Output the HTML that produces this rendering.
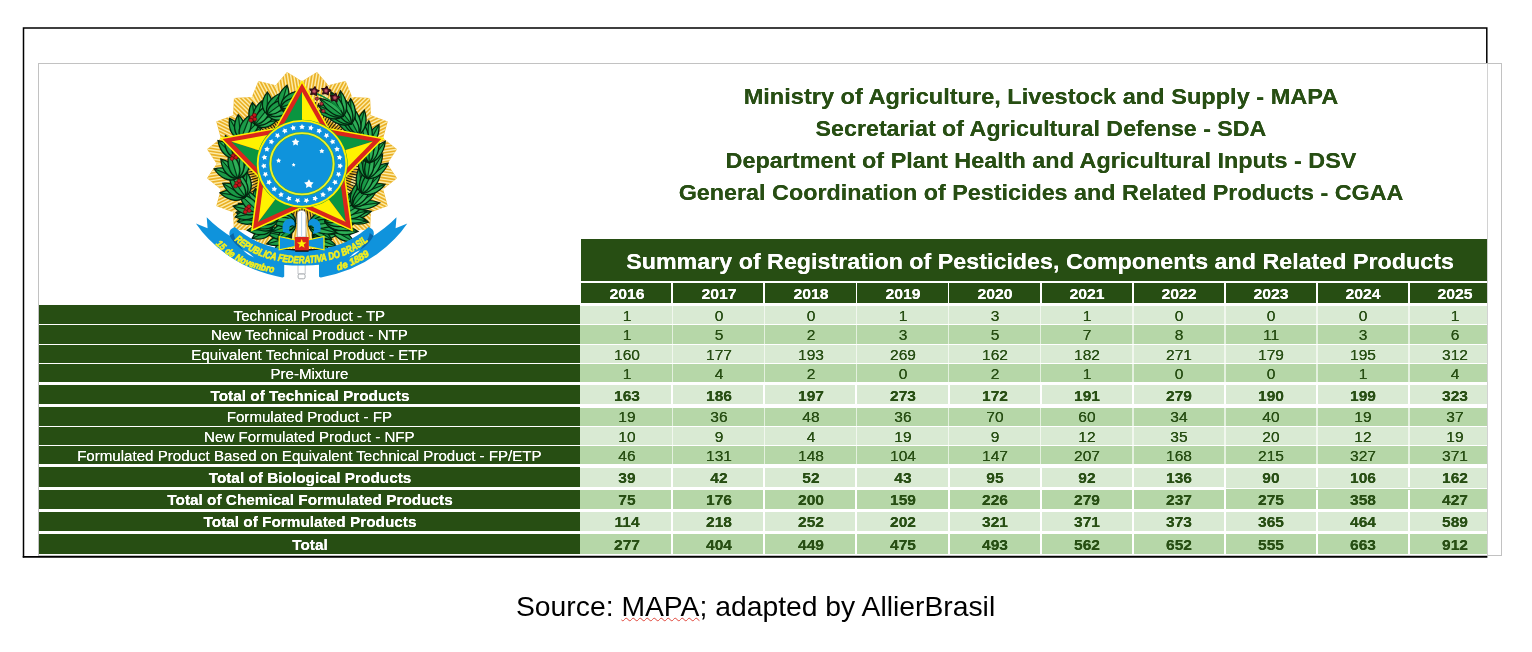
<!DOCTYPE html>
<html lang="en"><head><meta charset="utf-8"><title>Summary of Registration of Pesticides</title>
<style>
html,body{margin:0;padding:0;background:#fff;}
body{width:1532px;height:652px;position:relative;overflow:hidden;font-family:"Liberation Sans",Arial,sans-serif;}
.a{position:absolute;}
.t{position:absolute;white-space:nowrap;line-height:1;transform:translateX(-50%);text-shadow:0 0 .6px currentColor;}
.dg{background:#274e13;} .lg{background:#d9ead3;} .mg{background:#b6d7a8;}
.ttl{color:#274e13;font-weight:bold;font-size:22.4px;}
.hd{color:#fff;font-weight:bold;font-size:22.4px;transform:translateX(-50%) scaleX(1.0395);}
.yr{color:#fff;font-weight:bold;font-size:15.2px;transform:translateX(-50%) scaleX(1.04);}
.lb{color:#fff;font-size:15.1px;}
.nm{color:#274e13;font-size:15.1px;transform:translateX(-50%) scaleX(1.03);}
.lb.b{transform:translateX(-50%) scaleX(1.017);}
.b{font-weight:bold;}
</style></head><body>
<div class="a" id="img" style="left:38px;top:63px;width:1462px;height:491px;border:1px solid #c2c2c2;background:#fff;box-sizing:content-box"></div>
<div class="a" style="left:1487px;top:64px;width:1px;height:491px;background:#d2d2d2"></div>
<svg class="a" style="left:0;top:0" width="1532" height="652" viewBox="0 0 1532 652"><g stroke="#000" stroke-width="1.5" fill="none"><path d="M23.5,557.5V28.1H1486.8V62.9"/><path d="M22.75,556.8H1487.4" stroke-width="1.7"/></g></svg>
<div class="t ttl" style="left:1040.9px;top:86px;transform:translateX(-50%) scaleX(1.053)">Ministry of Agriculture, Livestock and Supply - MAPA</div>
<div class="t ttl" style="left:1040.9px;top:118px;transform:translateX(-50%) scaleX(1.037)">Secretariat of Agricultural Defense - SDA</div>
<div class="t ttl" style="left:1040.9px;top:150px;transform:translateX(-50%) scaleX(1.045)">Department of Plant Health and Agricultural Inputs - DSV</div>
<div class="t ttl" style="left:1040.9px;top:182px;transform:translateX(-50%) scaleX(1.042)">General Coordination of Pesticides and Related Products - CGAA</div>
<div class="a dg" style="left:581.0px;top:239.4px;width:906.3px;height:41.2px"></div>
<div class="t hd" style="left:1040.1px;top:251px">Summary of Registration of Pesticides, Components and Related Products</div>
<div class="a dg" style="left:581.0px;top:283.2px;width:90.4px;height:19.6px"></div>
<div class="t yr" style="left:626.5px;top:286px">2016</div>
<div class="a dg" style="left:673.1px;top:283.2px;width:90.4px;height:19.6px"></div>
<div class="t yr" style="left:718.6px;top:286px">2017</div>
<div class="a dg" style="left:765.2px;top:283.2px;width:90.4px;height:19.6px"></div>
<div class="t yr" style="left:810.7px;top:286px">2018</div>
<div class="a dg" style="left:857.3px;top:283.2px;width:90.4px;height:19.6px"></div>
<div class="t yr" style="left:902.8px;top:286px">2019</div>
<div class="a dg" style="left:949.4px;top:283.2px;width:90.4px;height:19.6px"></div>
<div class="t yr" style="left:994.9px;top:286px">2020</div>
<div class="a dg" style="left:1041.5px;top:283.2px;width:90.4px;height:19.6px"></div>
<div class="t yr" style="left:1087.0px;top:286px">2021</div>
<div class="a dg" style="left:1133.6px;top:283.2px;width:90.4px;height:19.6px"></div>
<div class="t yr" style="left:1179.1px;top:286px">2022</div>
<div class="a dg" style="left:1225.7px;top:283.2px;width:90.4px;height:19.6px"></div>
<div class="t yr" style="left:1271.2px;top:286px">2023</div>
<div class="a dg" style="left:1317.8px;top:283.2px;width:90.4px;height:19.6px"></div>
<div class="t yr" style="left:1363.3px;top:286px">2024</div>
<div class="a dg" style="left:1409.9px;top:283.2px;width:77.4px;height:19.6px"></div>
<div class="t yr" style="left:1455.4px;top:286px">2025</div>
<div class="a dg" style="left:38.6px;top:305.3px;width:541.2px;height:19.2px"></div>
<div class="a lg" style="left:580.3px;top:305.8px;width:907.0px;height:18.7px"></div>
<div class="t lb" style="left:309.4px;top:308px">Technical Product - TP</div>
<div class="t nm" style="left:626.5px;top:308px">1</div>
<div class="t nm" style="left:718.6px;top:308px">0</div>
<div class="t nm" style="left:810.7px;top:308px">0</div>
<div class="t nm" style="left:902.8px;top:308px">1</div>
<div class="t nm" style="left:994.9px;top:308px">3</div>
<div class="t nm" style="left:1087.0px;top:308px">1</div>
<div class="t nm" style="left:1179.1px;top:308px">0</div>
<div class="t nm" style="left:1271.2px;top:308px">0</div>
<div class="t nm" style="left:1363.3px;top:308px">0</div>
<div class="t nm" style="left:1455.4px;top:308px">1</div>
<div class="a dg" style="left:38.6px;top:324.9px;width:541.2px;height:19.1px"></div>
<div class="a mg" style="left:580.3px;top:325.4px;width:907.0px;height:18.6px"></div>
<div class="t lb" style="left:309.4px;top:327px">New Technical Product - NTP</div>
<div class="t nm" style="left:626.5px;top:327px">1</div>
<div class="t nm" style="left:718.6px;top:327px">5</div>
<div class="t nm" style="left:810.7px;top:327px">2</div>
<div class="t nm" style="left:902.8px;top:327px">3</div>
<div class="t nm" style="left:994.9px;top:327px">5</div>
<div class="t nm" style="left:1087.0px;top:327px">7</div>
<div class="t nm" style="left:1179.1px;top:327px">8</div>
<div class="t nm" style="left:1271.2px;top:327px">11</div>
<div class="t nm" style="left:1363.3px;top:327px">3</div>
<div class="t nm" style="left:1455.4px;top:327px">6</div>
<div class="a dg" style="left:38.6px;top:344.5px;width:541.2px;height:18.9px"></div>
<div class="a lg" style="left:580.3px;top:345.0px;width:907.0px;height:18.4px"></div>
<div class="t lb" style="left:309.4px;top:347px">Equivalent Technical Product - ETP</div>
<div class="t nm" style="left:626.5px;top:347px">160</div>
<div class="t nm" style="left:718.6px;top:347px">177</div>
<div class="t nm" style="left:810.7px;top:347px">193</div>
<div class="t nm" style="left:902.8px;top:347px">269</div>
<div class="t nm" style="left:994.9px;top:347px">162</div>
<div class="t nm" style="left:1087.0px;top:347px">182</div>
<div class="t nm" style="left:1179.1px;top:347px">271</div>
<div class="t nm" style="left:1271.2px;top:347px">179</div>
<div class="t nm" style="left:1363.3px;top:347px">195</div>
<div class="t nm" style="left:1455.4px;top:347px">312</div>
<div class="a dg" style="left:38.6px;top:363.8px;width:541.2px;height:18.6px"></div>
<div class="a mg" style="left:580.3px;top:364.3px;width:907.0px;height:18.1px"></div>
<div class="t lb" style="left:309.4px;top:366px">Pre-Mixture</div>
<div class="t nm" style="left:626.5px;top:366px">1</div>
<div class="t nm" style="left:718.6px;top:366px">4</div>
<div class="t nm" style="left:810.7px;top:366px">2</div>
<div class="t nm" style="left:902.8px;top:366px">0</div>
<div class="t nm" style="left:994.9px;top:366px">2</div>
<div class="t nm" style="left:1087.0px;top:366px">1</div>
<div class="t nm" style="left:1179.1px;top:366px">0</div>
<div class="t nm" style="left:1271.2px;top:366px">0</div>
<div class="t nm" style="left:1363.3px;top:366px">1</div>
<div class="t nm" style="left:1455.4px;top:366px">4</div>
<div class="a dg" style="left:38.6px;top:384.9px;width:541.2px;height:19.6px"></div>
<div class="a lg" style="left:580.3px;top:385.4px;width:907.0px;height:19.1px"></div>
<div class="t lb b" style="left:310.2px;top:388px">Total of Technical Products</div>
<div class="t nm b" style="left:626.5px;top:388px">163</div>
<div class="t nm b" style="left:718.6px;top:388px">186</div>
<div class="t nm b" style="left:810.7px;top:388px">197</div>
<div class="t nm b" style="left:902.8px;top:388px">273</div>
<div class="t nm b" style="left:994.9px;top:388px">172</div>
<div class="t nm b" style="left:1087.0px;top:388px">191</div>
<div class="t nm b" style="left:1179.1px;top:388px">279</div>
<div class="t nm b" style="left:1271.2px;top:388px">190</div>
<div class="t nm b" style="left:1363.3px;top:388px">199</div>
<div class="t nm b" style="left:1455.4px;top:388px">323</div>
<div class="a dg" style="left:38.6px;top:407.3px;width:541.2px;height:18.8px"></div>
<div class="a mg" style="left:580.3px;top:407.8px;width:907.0px;height:18.3px"></div>
<div class="t lb" style="left:309.4px;top:409px">Formulated Product - FP</div>
<div class="t nm" style="left:626.5px;top:409px">19</div>
<div class="t nm" style="left:718.6px;top:409px">36</div>
<div class="t nm" style="left:810.7px;top:409px">48</div>
<div class="t nm" style="left:902.8px;top:409px">36</div>
<div class="t nm" style="left:994.9px;top:409px">70</div>
<div class="t nm" style="left:1087.0px;top:409px">60</div>
<div class="t nm" style="left:1179.1px;top:409px">34</div>
<div class="t nm" style="left:1271.2px;top:409px">40</div>
<div class="t nm" style="left:1363.3px;top:409px">19</div>
<div class="t nm" style="left:1455.4px;top:409px">37</div>
<div class="a dg" style="left:38.6px;top:426.6px;width:541.2px;height:18.6px"></div>
<div class="a lg" style="left:580.3px;top:427.1px;width:907.0px;height:18.1px"></div>
<div class="t lb" style="left:309.4px;top:429px">New Formulated Product - NFP</div>
<div class="t nm" style="left:626.5px;top:429px">10</div>
<div class="t nm" style="left:718.6px;top:429px">9</div>
<div class="t nm" style="left:810.7px;top:429px">4</div>
<div class="t nm" style="left:902.8px;top:429px">19</div>
<div class="t nm" style="left:994.9px;top:429px">9</div>
<div class="t nm" style="left:1087.0px;top:429px">12</div>
<div class="t nm" style="left:1179.1px;top:429px">35</div>
<div class="t nm" style="left:1271.2px;top:429px">20</div>
<div class="t nm" style="left:1363.3px;top:429px">12</div>
<div class="t nm" style="left:1455.4px;top:429px">19</div>
<div class="a dg" style="left:38.6px;top:445.8px;width:541.2px;height:18.7px"></div>
<div class="a mg" style="left:580.3px;top:446.3px;width:907.0px;height:18.2px"></div>
<div class="t lb" style="left:309.4px;top:448px">Formulated Product Based on Equivalent Technical Product - FP/ETP</div>
<div class="t nm" style="left:626.5px;top:448px">46</div>
<div class="t nm" style="left:718.6px;top:448px">131</div>
<div class="t nm" style="left:810.7px;top:448px">148</div>
<div class="t nm" style="left:902.8px;top:448px">104</div>
<div class="t nm" style="left:994.9px;top:448px">147</div>
<div class="t nm" style="left:1087.0px;top:448px">207</div>
<div class="t nm" style="left:1179.1px;top:448px">168</div>
<div class="t nm" style="left:1271.2px;top:448px">215</div>
<div class="t nm" style="left:1363.3px;top:448px">327</div>
<div class="t nm" style="left:1455.4px;top:448px">371</div>
<div class="a dg" style="left:38.6px;top:467.4px;width:541.2px;height:19.4px"></div>
<div class="a lg" style="left:580.3px;top:467.9px;width:907.0px;height:18.9px"></div>
<div class="t lb b" style="left:310.2px;top:470px">Total of Biological Products</div>
<div class="t nm b" style="left:626.5px;top:470px">39</div>
<div class="t nm b" style="left:718.6px;top:470px">42</div>
<div class="t nm b" style="left:810.7px;top:470px">52</div>
<div class="t nm b" style="left:902.8px;top:470px">43</div>
<div class="t nm b" style="left:994.9px;top:470px">95</div>
<div class="t nm b" style="left:1087.0px;top:470px">92</div>
<div class="t nm b" style="left:1179.1px;top:470px">136</div>
<div class="t nm b" style="left:1271.2px;top:470px">90</div>
<div class="t nm b" style="left:1363.3px;top:470px">106</div>
<div class="t nm b" style="left:1455.4px;top:470px">162</div>
<div class="a dg" style="left:38.6px;top:489.7px;width:541.2px;height:19.1px"></div>
<div class="a mg" style="left:580.3px;top:490.2px;width:907.0px;height:18.6px"></div>
<div class="t lb b" style="left:310.2px;top:492px">Total of Chemical Formulated Products</div>
<div class="t nm b" style="left:626.5px;top:492px">75</div>
<div class="t nm b" style="left:718.6px;top:492px">176</div>
<div class="t nm b" style="left:810.7px;top:492px">200</div>
<div class="t nm b" style="left:902.8px;top:492px">159</div>
<div class="t nm b" style="left:994.9px;top:492px">226</div>
<div class="t nm b" style="left:1087.0px;top:492px">279</div>
<div class="t nm b" style="left:1179.1px;top:492px">237</div>
<div class="t nm b" style="left:1271.2px;top:492px">275</div>
<div class="t nm b" style="left:1363.3px;top:492px">358</div>
<div class="t nm b" style="left:1455.4px;top:492px">427</div>
<div class="a dg" style="left:38.6px;top:511.7px;width:541.2px;height:19.0px"></div>
<div class="a lg" style="left:580.3px;top:512.2px;width:907.0px;height:18.5px"></div>
<div class="t lb b" style="left:310.2px;top:514px">Total of Formulated Products</div>
<div class="t nm b" style="left:626.5px;top:514px">114</div>
<div class="t nm b" style="left:718.6px;top:514px">218</div>
<div class="t nm b" style="left:810.7px;top:514px">252</div>
<div class="t nm b" style="left:902.8px;top:514px">202</div>
<div class="t nm b" style="left:994.9px;top:514px">321</div>
<div class="t nm b" style="left:1087.0px;top:514px">371</div>
<div class="t nm b" style="left:1179.1px;top:514px">373</div>
<div class="t nm b" style="left:1271.2px;top:514px">365</div>
<div class="t nm b" style="left:1363.3px;top:514px">464</div>
<div class="t nm b" style="left:1455.4px;top:514px">589</div>
<div class="a dg" style="left:38.6px;top:533.8px;width:541.2px;height:19.8px"></div>
<div class="a mg" style="left:580.3px;top:534.3px;width:907.0px;height:19.3px"></div>
<div class="t lb b" style="left:310.2px;top:537px">Total</div>
<div class="t nm b" style="left:626.5px;top:537px">277</div>
<div class="t nm b" style="left:718.6px;top:537px">404</div>
<div class="t nm b" style="left:810.7px;top:537px">449</div>
<div class="t nm b" style="left:902.8px;top:537px">475</div>
<div class="t nm b" style="left:994.9px;top:537px">493</div>
<div class="t nm b" style="left:1087.0px;top:537px">562</div>
<div class="t nm b" style="left:1179.1px;top:537px">652</div>
<div class="t nm b" style="left:1271.2px;top:537px">555</div>
<div class="t nm b" style="left:1363.3px;top:537px">663</div>
<div class="t nm b" style="left:1455.4px;top:537px">912</div>
<div class="a" style="left:671.5px;top:305.3px;width:1.6px;height:19.7px;background:rgba(255,255,255,.62)"></div>
<div class="a" style="left:763.6px;top:305.3px;width:1.6px;height:19.7px;background:rgba(255,255,255,.62)"></div>
<div class="a" style="left:855.6px;top:305.3px;width:1.6px;height:19.7px;background:rgba(255,255,255,.62)"></div>
<div class="a" style="left:947.8px;top:305.3px;width:1.6px;height:19.7px;background:rgba(255,255,255,.62)"></div>
<div class="a" style="left:1039.9px;top:305.3px;width:1.6px;height:19.7px;background:rgba(255,255,255,.62)"></div>
<div class="a" style="left:1132.0px;top:305.3px;width:1.6px;height:19.7px;background:rgba(255,255,255,.62)"></div>
<div class="a" style="left:1224.0px;top:305.3px;width:1.6px;height:19.7px;background:rgba(255,255,255,.62)"></div>
<div class="a" style="left:1316.2px;top:305.3px;width:1.6px;height:19.7px;background:rgba(255,255,255,.62)"></div>
<div class="a" style="left:1408.3px;top:305.3px;width:1.6px;height:19.7px;background:rgba(255,255,255,.62)"></div>
<div class="a" style="left:671.5px;top:324.9px;width:1.6px;height:19.6px;background:rgba(255,255,255,.62)"></div>
<div class="a" style="left:763.6px;top:324.9px;width:1.6px;height:19.6px;background:rgba(255,255,255,.62)"></div>
<div class="a" style="left:855.6px;top:324.9px;width:1.6px;height:19.6px;background:rgba(255,255,255,.62)"></div>
<div class="a" style="left:947.8px;top:324.9px;width:1.6px;height:19.6px;background:rgba(255,255,255,.62)"></div>
<div class="a" style="left:1039.9px;top:324.9px;width:1.6px;height:19.6px;background:rgba(255,255,255,.62)"></div>
<div class="a" style="left:1132.0px;top:324.9px;width:1.6px;height:19.6px;background:rgba(255,255,255,.62)"></div>
<div class="a" style="left:1224.0px;top:324.9px;width:1.6px;height:19.6px;background:rgba(255,255,255,.62)"></div>
<div class="a" style="left:1316.2px;top:324.9px;width:1.6px;height:19.6px;background:rgba(255,255,255,.62)"></div>
<div class="a" style="left:1408.3px;top:324.9px;width:1.6px;height:19.6px;background:rgba(255,255,255,.62)"></div>
<div class="a" style="left:671.5px;top:344.5px;width:1.6px;height:19.4px;background:rgba(255,255,255,.62)"></div>
<div class="a" style="left:763.6px;top:344.5px;width:1.6px;height:19.4px;background:rgba(255,255,255,.62)"></div>
<div class="a" style="left:855.6px;top:344.5px;width:1.6px;height:19.4px;background:rgba(255,255,255,.62)"></div>
<div class="a" style="left:947.8px;top:344.5px;width:1.6px;height:19.4px;background:rgba(255,255,255,.62)"></div>
<div class="a" style="left:1039.9px;top:344.5px;width:1.6px;height:19.4px;background:rgba(255,255,255,.62)"></div>
<div class="a" style="left:1132.0px;top:344.5px;width:1.6px;height:19.4px;background:rgba(255,255,255,.62)"></div>
<div class="a" style="left:1224.0px;top:344.5px;width:1.6px;height:19.4px;background:rgba(255,255,255,.62)"></div>
<div class="a" style="left:1316.2px;top:344.5px;width:1.6px;height:19.4px;background:rgba(255,255,255,.62)"></div>
<div class="a" style="left:1408.3px;top:344.5px;width:1.6px;height:19.4px;background:rgba(255,255,255,.62)"></div>
<div class="a" style="left:671.5px;top:363.8px;width:1.6px;height:19.1px;background:rgba(255,255,255,.62)"></div>
<div class="a" style="left:763.6px;top:363.8px;width:1.6px;height:19.1px;background:rgba(255,255,255,.62)"></div>
<div class="a" style="left:855.6px;top:363.8px;width:1.6px;height:19.1px;background:rgba(255,255,255,.62)"></div>
<div class="a" style="left:947.8px;top:363.8px;width:1.6px;height:19.1px;background:rgba(255,255,255,.62)"></div>
<div class="a" style="left:1039.9px;top:363.8px;width:1.6px;height:19.1px;background:rgba(255,255,255,.62)"></div>
<div class="a" style="left:1132.0px;top:363.8px;width:1.6px;height:19.1px;background:rgba(255,255,255,.62)"></div>
<div class="a" style="left:1224.0px;top:363.8px;width:1.6px;height:19.1px;background:rgba(255,255,255,.62)"></div>
<div class="a" style="left:1316.2px;top:363.8px;width:1.6px;height:19.1px;background:rgba(255,255,255,.62)"></div>
<div class="a" style="left:1408.3px;top:363.8px;width:1.6px;height:19.1px;background:rgba(255,255,255,.62)"></div>
<div class="a" style="left:671.2px;top:384.9px;width:2px;height:20.1px;background:#fff"></div>
<div class="a" style="left:763.4px;top:384.9px;width:2px;height:20.1px;background:#fff"></div>
<div class="a" style="left:855.4px;top:384.9px;width:2px;height:20.1px;background:#fff"></div>
<div class="a" style="left:947.5px;top:384.9px;width:2px;height:20.1px;background:#fff"></div>
<div class="a" style="left:1039.7px;top:384.9px;width:2px;height:20.1px;background:#fff"></div>
<div class="a" style="left:1131.8px;top:384.9px;width:2px;height:20.1px;background:#fff"></div>
<div class="a" style="left:1223.8px;top:384.9px;width:2px;height:20.1px;background:#fff"></div>
<div class="a" style="left:1316.0px;top:384.9px;width:2px;height:20.1px;background:#fff"></div>
<div class="a" style="left:1408.1px;top:384.9px;width:2px;height:20.1px;background:#fff"></div>
<div class="a" style="left:671.5px;top:407.3px;width:1.6px;height:19.3px;background:rgba(255,255,255,.62)"></div>
<div class="a" style="left:763.6px;top:407.3px;width:1.6px;height:19.3px;background:rgba(255,255,255,.62)"></div>
<div class="a" style="left:855.6px;top:407.3px;width:1.6px;height:19.3px;background:rgba(255,255,255,.62)"></div>
<div class="a" style="left:947.8px;top:407.3px;width:1.6px;height:19.3px;background:rgba(255,255,255,.62)"></div>
<div class="a" style="left:1039.9px;top:407.3px;width:1.6px;height:19.3px;background:rgba(255,255,255,.62)"></div>
<div class="a" style="left:1132.0px;top:407.3px;width:1.6px;height:19.3px;background:rgba(255,255,255,.62)"></div>
<div class="a" style="left:1224.0px;top:407.3px;width:1.6px;height:19.3px;background:rgba(255,255,255,.62)"></div>
<div class="a" style="left:1316.2px;top:407.3px;width:1.6px;height:19.3px;background:rgba(255,255,255,.62)"></div>
<div class="a" style="left:1408.3px;top:407.3px;width:1.6px;height:19.3px;background:rgba(255,255,255,.62)"></div>
<div class="a" style="left:671.5px;top:426.6px;width:1.6px;height:19.1px;background:rgba(255,255,255,.62)"></div>
<div class="a" style="left:763.6px;top:426.6px;width:1.6px;height:19.1px;background:rgba(255,255,255,.62)"></div>
<div class="a" style="left:855.6px;top:426.6px;width:1.6px;height:19.1px;background:rgba(255,255,255,.62)"></div>
<div class="a" style="left:947.8px;top:426.6px;width:1.6px;height:19.1px;background:rgba(255,255,255,.62)"></div>
<div class="a" style="left:1039.9px;top:426.6px;width:1.6px;height:19.1px;background:rgba(255,255,255,.62)"></div>
<div class="a" style="left:1132.0px;top:426.6px;width:1.6px;height:19.1px;background:rgba(255,255,255,.62)"></div>
<div class="a" style="left:1224.0px;top:426.6px;width:1.6px;height:19.1px;background:rgba(255,255,255,.62)"></div>
<div class="a" style="left:1316.2px;top:426.6px;width:1.6px;height:19.1px;background:rgba(255,255,255,.62)"></div>
<div class="a" style="left:1408.3px;top:426.6px;width:1.6px;height:19.1px;background:rgba(255,255,255,.62)"></div>
<div class="a" style="left:671.5px;top:445.8px;width:1.6px;height:19.2px;background:rgba(255,255,255,.62)"></div>
<div class="a" style="left:763.6px;top:445.8px;width:1.6px;height:19.2px;background:rgba(255,255,255,.62)"></div>
<div class="a" style="left:855.6px;top:445.8px;width:1.6px;height:19.2px;background:rgba(255,255,255,.62)"></div>
<div class="a" style="left:947.8px;top:445.8px;width:1.6px;height:19.2px;background:rgba(255,255,255,.62)"></div>
<div class="a" style="left:1039.9px;top:445.8px;width:1.6px;height:19.2px;background:rgba(255,255,255,.62)"></div>
<div class="a" style="left:1132.0px;top:445.8px;width:1.6px;height:19.2px;background:rgba(255,255,255,.62)"></div>
<div class="a" style="left:1224.0px;top:445.8px;width:1.6px;height:19.2px;background:rgba(255,255,255,.62)"></div>
<div class="a" style="left:1316.2px;top:445.8px;width:1.6px;height:19.2px;background:rgba(255,255,255,.62)"></div>
<div class="a" style="left:1408.3px;top:445.8px;width:1.6px;height:19.2px;background:rgba(255,255,255,.62)"></div>
<div class="a" style="left:671.2px;top:467.4px;width:2px;height:19.9px;background:#fff"></div>
<div class="a" style="left:763.4px;top:467.4px;width:2px;height:19.9px;background:#fff"></div>
<div class="a" style="left:855.4px;top:467.4px;width:2px;height:19.9px;background:#fff"></div>
<div class="a" style="left:947.5px;top:467.4px;width:2px;height:19.9px;background:#fff"></div>
<div class="a" style="left:1039.7px;top:467.4px;width:2px;height:19.9px;background:#fff"></div>
<div class="a" style="left:1131.8px;top:467.4px;width:2px;height:19.9px;background:#fff"></div>
<div class="a" style="left:1223.8px;top:467.4px;width:2px;height:19.9px;background:#fff"></div>
<div class="a" style="left:1316.0px;top:467.4px;width:2px;height:19.9px;background:#fff"></div>
<div class="a" style="left:1408.1px;top:467.4px;width:2px;height:19.9px;background:#fff"></div>
<div class="a" style="left:671.2px;top:489.7px;width:2px;height:19.6px;background:#fff"></div>
<div class="a" style="left:763.4px;top:489.7px;width:2px;height:19.6px;background:#fff"></div>
<div class="a" style="left:855.4px;top:489.7px;width:2px;height:19.6px;background:#fff"></div>
<div class="a" style="left:947.5px;top:489.7px;width:2px;height:19.6px;background:#fff"></div>
<div class="a" style="left:1039.7px;top:489.7px;width:2px;height:19.6px;background:#fff"></div>
<div class="a" style="left:1131.8px;top:489.7px;width:2px;height:19.6px;background:#fff"></div>
<div class="a" style="left:1223.8px;top:489.7px;width:2px;height:19.6px;background:#fff"></div>
<div class="a" style="left:1316.0px;top:489.7px;width:2px;height:19.6px;background:#fff"></div>
<div class="a" style="left:1408.1px;top:489.7px;width:2px;height:19.6px;background:#fff"></div>
<div class="a" style="left:671.2px;top:511.7px;width:2px;height:19.5px;background:#fff"></div>
<div class="a" style="left:763.4px;top:511.7px;width:2px;height:19.5px;background:#fff"></div>
<div class="a" style="left:855.4px;top:511.7px;width:2px;height:19.5px;background:#fff"></div>
<div class="a" style="left:947.5px;top:511.7px;width:2px;height:19.5px;background:#fff"></div>
<div class="a" style="left:1039.7px;top:511.7px;width:2px;height:19.5px;background:#fff"></div>
<div class="a" style="left:1131.8px;top:511.7px;width:2px;height:19.5px;background:#fff"></div>
<div class="a" style="left:1223.8px;top:511.7px;width:2px;height:19.5px;background:#fff"></div>
<div class="a" style="left:1316.0px;top:511.7px;width:2px;height:19.5px;background:#fff"></div>
<div class="a" style="left:1408.1px;top:511.7px;width:2px;height:19.5px;background:#fff"></div>
<div class="a" style="left:671.2px;top:533.8px;width:2px;height:20.3px;background:#fff"></div>
<div class="a" style="left:763.4px;top:533.8px;width:2px;height:20.3px;background:#fff"></div>
<div class="a" style="left:855.4px;top:533.8px;width:2px;height:20.3px;background:#fff"></div>
<div class="a" style="left:947.5px;top:533.8px;width:2px;height:20.3px;background:#fff"></div>
<div class="a" style="left:1039.7px;top:533.8px;width:2px;height:20.3px;background:#fff"></div>
<div class="a" style="left:1131.8px;top:533.8px;width:2px;height:20.3px;background:#fff"></div>
<div class="a" style="left:1223.8px;top:533.8px;width:2px;height:20.3px;background:#fff"></div>
<div class="a" style="left:1316.0px;top:533.8px;width:2px;height:20.3px;background:#fff"></div>
<div class="a" style="left:1408.1px;top:533.8px;width:2px;height:20.3px;background:#fff"></div>
<div class="a lg" style="left:1225.9px;top:486.6px;width:261.4px;height:1.5px"></div>
<div class="a mg" style="left:1225.9px;top:489.0px;width:261.4px;height:1.4px"></div>
<div class="t" style="left:755.6px;top:592px;font-size:28.3px;color:#000;text-shadow:none">Source: <span style="text-decoration:underline wavy #e0483c 1px;text-underline-offset:1px;text-decoration-skip-ink:none">MAPA</span>; adapted by AllierBrasil</div>
<svg class="a" style="left:0;top:0;filter:blur(.4px)" width="1532" height="652" viewBox="0 0 1532 652">
<defs>
<clipPath id="gl"><path d="M14.5,-91.9 L25.5,-78.5 L42.2,-82.9 L48.5,-66.7 L65.8,-65.8 L66.7,-48.5 L82.9,-42.2 L78.5,-25.5 L91.9,-14.5 L82.5,-0.0 L91.9,14.5 L78.5,25.5 L82.9,42.2 L66.7,48.5 L65.8,65.8 L48.5,66.7 L42.2,82.9 L25.5,78.5 L14.5,91.9 L0.0,82.5 L-14.5,91.9 L-25.5,78.5 L-42.2,82.9 L-48.5,66.7 L-65.8,65.8 L-66.7,48.5 L-82.9,42.2 L-78.5,25.5 L-91.9,14.5 L-82.5,0.0 L-91.9,-14.5 L-78.5,-25.5 L-82.9,-42.2 L-66.7,-48.5 L-65.8,-65.8 L-48.5,-66.7 L-42.2,-82.9 L-25.5,-78.5 L-14.5,-91.9 L-0.0,-82.5Z"/></clipPath>
</defs>
<g transform="translate(302.0,163.8) scale(1.034,1)">
<path d="M14.5,-91.9 L25.5,-78.5 L42.2,-82.9 L48.5,-66.7 L65.8,-65.8 L66.7,-48.5 L82.9,-42.2 L78.5,-25.5 L91.9,-14.5 L82.5,-0.0 L91.9,14.5 L78.5,25.5 L82.9,42.2 L66.7,48.5 L65.8,65.8 L48.5,66.7 L42.2,82.9 L25.5,78.5 L14.5,91.9 L0.0,82.5 L-14.5,91.9 L-25.5,78.5 L-42.2,82.9 L-48.5,66.7 L-65.8,65.8 L-66.7,48.5 L-82.9,42.2 L-78.5,25.5 L-91.9,14.5 L-82.5,0.0 L-91.9,-14.5 L-78.5,-25.5 L-82.9,-42.2 L-66.7,-48.5 L-65.8,-65.8 L-48.5,-66.7 L-42.2,-82.9 L-25.5,-78.5 L-14.5,-91.9 L-0.0,-82.5Z" fill="#eab025"/>
<g clip-path="url(#gl)">
<line x1="-4.0" y1="-51.3" x2="3.0" y2="-95.7" stroke="#fcecaa" stroke-width="1.4"/>
<line x1="-1.1" y1="-50.8" x2="6.0" y2="-95.2" stroke="#fcecaa" stroke-width="1.4"/>
<line x1="1.9" y1="-50.3" x2="8.9" y2="-94.8" stroke="#fcecaa" stroke-width="1.4"/>
<line x1="4.9" y1="-49.9" x2="11.9" y2="-94.3" stroke="#fcecaa" stroke-width="1.4"/>
<line x1="7.8" y1="-49.4" x2="14.9" y2="-93.8" stroke="#fcecaa" stroke-width="1.4"/>
<line x1="10.8" y1="-48.9" x2="17.8" y2="-93.4" stroke="#fcecaa" stroke-width="1.4"/>
<line x1="13.7" y1="-48.4" x2="20.8" y2="-92.9" stroke="#fcecaa" stroke-width="1.4"/>
<line x1="16.7" y1="-48.0" x2="23.8" y2="-92.4" stroke="#fcecaa" stroke-width="1.4"/>
<line x1="19.7" y1="-47.5" x2="26.7" y2="-92.0" stroke="#fcecaa" stroke-width="1.4"/>
<line x1="12.0" y1="-50.0" x2="32.4" y2="-90.1" stroke="#fcecaa" stroke-width="1.4"/>
<line x1="14.7" y1="-48.6" x2="35.1" y2="-88.7" stroke="#fcecaa" stroke-width="1.4"/>
<line x1="17.4" y1="-47.3" x2="37.8" y2="-87.4" stroke="#fcecaa" stroke-width="1.4"/>
<line x1="20.0" y1="-45.9" x2="40.5" y2="-86.0" stroke="#fcecaa" stroke-width="1.4"/>
<line x1="22.7" y1="-44.6" x2="43.1" y2="-84.6" stroke="#fcecaa" stroke-width="1.4"/>
<line x1="25.4" y1="-43.2" x2="45.8" y2="-83.3" stroke="#fcecaa" stroke-width="1.4"/>
<line x1="28.0" y1="-41.8" x2="48.5" y2="-81.9" stroke="#fcecaa" stroke-width="1.4"/>
<line x1="30.7" y1="-40.5" x2="51.1" y2="-80.6" stroke="#fcecaa" stroke-width="1.4"/>
<line x1="33.4" y1="-39.1" x2="53.8" y2="-79.2" stroke="#fcecaa" stroke-width="1.4"/>
<line x1="26.9" y1="-43.8" x2="58.7" y2="-75.7" stroke="#fcecaa" stroke-width="1.4"/>
<line x1="29.0" y1="-41.7" x2="60.8" y2="-73.5" stroke="#fcecaa" stroke-width="1.4"/>
<line x1="31.1" y1="-39.6" x2="62.9" y2="-71.4" stroke="#fcecaa" stroke-width="1.4"/>
<line x1="33.2" y1="-37.5" x2="65.1" y2="-69.3" stroke="#fcecaa" stroke-width="1.4"/>
<line x1="35.4" y1="-35.4" x2="67.2" y2="-67.2" stroke="#fcecaa" stroke-width="1.4"/>
<line x1="37.5" y1="-33.2" x2="69.3" y2="-65.1" stroke="#fcecaa" stroke-width="1.4"/>
<line x1="39.6" y1="-31.1" x2="71.4" y2="-62.9" stroke="#fcecaa" stroke-width="1.4"/>
<line x1="41.7" y1="-29.0" x2="73.5" y2="-60.8" stroke="#fcecaa" stroke-width="1.4"/>
<line x1="43.8" y1="-26.9" x2="75.7" y2="-58.7" stroke="#fcecaa" stroke-width="1.4"/>
<line x1="39.1" y1="-33.4" x2="79.2" y2="-53.8" stroke="#fcecaa" stroke-width="1.4"/>
<line x1="40.5" y1="-30.7" x2="80.6" y2="-51.1" stroke="#fcecaa" stroke-width="1.4"/>
<line x1="41.8" y1="-28.0" x2="81.9" y2="-48.5" stroke="#fcecaa" stroke-width="1.4"/>
<line x1="43.2" y1="-25.4" x2="83.3" y2="-45.8" stroke="#fcecaa" stroke-width="1.4"/>
<line x1="44.6" y1="-22.7" x2="84.6" y2="-43.1" stroke="#fcecaa" stroke-width="1.4"/>
<line x1="45.9" y1="-20.0" x2="86.0" y2="-40.5" stroke="#fcecaa" stroke-width="1.4"/>
<line x1="47.3" y1="-17.4" x2="87.4" y2="-37.8" stroke="#fcecaa" stroke-width="1.4"/>
<line x1="48.6" y1="-14.7" x2="88.7" y2="-35.1" stroke="#fcecaa" stroke-width="1.4"/>
<line x1="50.0" y1="-12.0" x2="90.1" y2="-32.4" stroke="#fcecaa" stroke-width="1.4"/>
<line x1="47.5" y1="-19.7" x2="92.0" y2="-26.7" stroke="#fcecaa" stroke-width="1.4"/>
<line x1="48.0" y1="-16.7" x2="92.4" y2="-23.8" stroke="#fcecaa" stroke-width="1.4"/>
<line x1="48.4" y1="-13.7" x2="92.9" y2="-20.8" stroke="#fcecaa" stroke-width="1.4"/>
<line x1="48.9" y1="-10.8" x2="93.4" y2="-17.8" stroke="#fcecaa" stroke-width="1.4"/>
<line x1="49.4" y1="-7.8" x2="93.8" y2="-14.9" stroke="#fcecaa" stroke-width="1.4"/>
<line x1="49.9" y1="-4.9" x2="94.3" y2="-11.9" stroke="#fcecaa" stroke-width="1.4"/>
<line x1="50.3" y1="-1.9" x2="94.8" y2="-8.9" stroke="#fcecaa" stroke-width="1.4"/>
<line x1="50.8" y1="1.1" x2="95.2" y2="-6.0" stroke="#fcecaa" stroke-width="1.4"/>
<line x1="51.3" y1="4.0" x2="95.7" y2="-3.0" stroke="#fcecaa" stroke-width="1.4"/>
<line x1="51.3" y1="-4.0" x2="95.7" y2="3.0" stroke="#fcecaa" stroke-width="1.4"/>
<line x1="50.8" y1="-1.1" x2="95.2" y2="6.0" stroke="#fcecaa" stroke-width="1.4"/>
<line x1="50.3" y1="1.9" x2="94.8" y2="8.9" stroke="#fcecaa" stroke-width="1.4"/>
<line x1="49.9" y1="4.9" x2="94.3" y2="11.9" stroke="#fcecaa" stroke-width="1.4"/>
<line x1="49.4" y1="7.8" x2="93.8" y2="14.9" stroke="#fcecaa" stroke-width="1.4"/>
<line x1="48.9" y1="10.8" x2="93.4" y2="17.8" stroke="#fcecaa" stroke-width="1.4"/>
<line x1="48.4" y1="13.7" x2="92.9" y2="20.8" stroke="#fcecaa" stroke-width="1.4"/>
<line x1="48.0" y1="16.7" x2="92.4" y2="23.8" stroke="#fcecaa" stroke-width="1.4"/>
<line x1="47.5" y1="19.7" x2="92.0" y2="26.7" stroke="#fcecaa" stroke-width="1.4"/>
<line x1="50.0" y1="12.0" x2="90.1" y2="32.4" stroke="#fcecaa" stroke-width="1.4"/>
<line x1="48.6" y1="14.7" x2="88.7" y2="35.1" stroke="#fcecaa" stroke-width="1.4"/>
<line x1="47.3" y1="17.4" x2="87.4" y2="37.8" stroke="#fcecaa" stroke-width="1.4"/>
<line x1="45.9" y1="20.0" x2="86.0" y2="40.5" stroke="#fcecaa" stroke-width="1.4"/>
<line x1="44.6" y1="22.7" x2="84.6" y2="43.1" stroke="#fcecaa" stroke-width="1.4"/>
<line x1="43.2" y1="25.4" x2="83.3" y2="45.8" stroke="#fcecaa" stroke-width="1.4"/>
<line x1="41.8" y1="28.0" x2="81.9" y2="48.5" stroke="#fcecaa" stroke-width="1.4"/>
<line x1="40.5" y1="30.7" x2="80.6" y2="51.1" stroke="#fcecaa" stroke-width="1.4"/>
<line x1="39.1" y1="33.4" x2="79.2" y2="53.8" stroke="#fcecaa" stroke-width="1.4"/>
<line x1="43.8" y1="26.9" x2="75.7" y2="58.7" stroke="#fcecaa" stroke-width="1.4"/>
<line x1="41.7" y1="29.0" x2="73.5" y2="60.8" stroke="#fcecaa" stroke-width="1.4"/>
<line x1="39.6" y1="31.1" x2="71.4" y2="62.9" stroke="#fcecaa" stroke-width="1.4"/>
<line x1="37.5" y1="33.2" x2="69.3" y2="65.1" stroke="#fcecaa" stroke-width="1.4"/>
<line x1="35.4" y1="35.4" x2="67.2" y2="67.2" stroke="#fcecaa" stroke-width="1.4"/>
<line x1="33.2" y1="37.5" x2="65.1" y2="69.3" stroke="#fcecaa" stroke-width="1.4"/>
<line x1="31.1" y1="39.6" x2="62.9" y2="71.4" stroke="#fcecaa" stroke-width="1.4"/>
<line x1="29.0" y1="41.7" x2="60.8" y2="73.5" stroke="#fcecaa" stroke-width="1.4"/>
<line x1="26.9" y1="43.8" x2="58.7" y2="75.7" stroke="#fcecaa" stroke-width="1.4"/>
<line x1="33.4" y1="39.1" x2="53.8" y2="79.2" stroke="#fcecaa" stroke-width="1.4"/>
<line x1="30.7" y1="40.5" x2="51.1" y2="80.6" stroke="#fcecaa" stroke-width="1.4"/>
<line x1="28.0" y1="41.8" x2="48.5" y2="81.9" stroke="#fcecaa" stroke-width="1.4"/>
<line x1="25.4" y1="43.2" x2="45.8" y2="83.3" stroke="#fcecaa" stroke-width="1.4"/>
<line x1="22.7" y1="44.6" x2="43.1" y2="84.6" stroke="#fcecaa" stroke-width="1.4"/>
<line x1="20.0" y1="45.9" x2="40.5" y2="86.0" stroke="#fcecaa" stroke-width="1.4"/>
<line x1="17.4" y1="47.3" x2="37.8" y2="87.4" stroke="#fcecaa" stroke-width="1.4"/>
<line x1="14.7" y1="48.6" x2="35.1" y2="88.7" stroke="#fcecaa" stroke-width="1.4"/>
<line x1="12.0" y1="50.0" x2="32.4" y2="90.1" stroke="#fcecaa" stroke-width="1.4"/>
<line x1="19.7" y1="47.5" x2="26.7" y2="92.0" stroke="#fcecaa" stroke-width="1.4"/>
<line x1="16.7" y1="48.0" x2="23.8" y2="92.4" stroke="#fcecaa" stroke-width="1.4"/>
<line x1="13.7" y1="48.4" x2="20.8" y2="92.9" stroke="#fcecaa" stroke-width="1.4"/>
<line x1="10.8" y1="48.9" x2="17.8" y2="93.4" stroke="#fcecaa" stroke-width="1.4"/>
<line x1="7.8" y1="49.4" x2="14.9" y2="93.8" stroke="#fcecaa" stroke-width="1.4"/>
<line x1="4.9" y1="49.9" x2="11.9" y2="94.3" stroke="#fcecaa" stroke-width="1.4"/>
<line x1="1.9" y1="50.3" x2="8.9" y2="94.8" stroke="#fcecaa" stroke-width="1.4"/>
<line x1="-1.1" y1="50.8" x2="6.0" y2="95.2" stroke="#fcecaa" stroke-width="1.4"/>
<line x1="-4.0" y1="51.3" x2="3.0" y2="95.7" stroke="#fcecaa" stroke-width="1.4"/>
<line x1="4.0" y1="51.3" x2="-3.0" y2="95.7" stroke="#fcecaa" stroke-width="1.4"/>
<line x1="1.1" y1="50.8" x2="-6.0" y2="95.2" stroke="#fcecaa" stroke-width="1.4"/>
<line x1="-1.9" y1="50.3" x2="-8.9" y2="94.8" stroke="#fcecaa" stroke-width="1.4"/>
<line x1="-4.9" y1="49.9" x2="-11.9" y2="94.3" stroke="#fcecaa" stroke-width="1.4"/>
<line x1="-7.8" y1="49.4" x2="-14.9" y2="93.8" stroke="#fcecaa" stroke-width="1.4"/>
<line x1="-10.8" y1="48.9" x2="-17.8" y2="93.4" stroke="#fcecaa" stroke-width="1.4"/>
<line x1="-13.7" y1="48.4" x2="-20.8" y2="92.9" stroke="#fcecaa" stroke-width="1.4"/>
<line x1="-16.7" y1="48.0" x2="-23.8" y2="92.4" stroke="#fcecaa" stroke-width="1.4"/>
<line x1="-19.7" y1="47.5" x2="-26.7" y2="92.0" stroke="#fcecaa" stroke-width="1.4"/>
<line x1="-12.0" y1="50.0" x2="-32.4" y2="90.1" stroke="#fcecaa" stroke-width="1.4"/>
<line x1="-14.7" y1="48.6" x2="-35.1" y2="88.7" stroke="#fcecaa" stroke-width="1.4"/>
<line x1="-17.4" y1="47.3" x2="-37.8" y2="87.4" stroke="#fcecaa" stroke-width="1.4"/>
<line x1="-20.0" y1="45.9" x2="-40.5" y2="86.0" stroke="#fcecaa" stroke-width="1.4"/>
<line x1="-22.7" y1="44.6" x2="-43.1" y2="84.6" stroke="#fcecaa" stroke-width="1.4"/>
<line x1="-25.4" y1="43.2" x2="-45.8" y2="83.3" stroke="#fcecaa" stroke-width="1.4"/>
<line x1="-28.0" y1="41.8" x2="-48.5" y2="81.9" stroke="#fcecaa" stroke-width="1.4"/>
<line x1="-30.7" y1="40.5" x2="-51.1" y2="80.6" stroke="#fcecaa" stroke-width="1.4"/>
<line x1="-33.4" y1="39.1" x2="-53.8" y2="79.2" stroke="#fcecaa" stroke-width="1.4"/>
<line x1="-26.9" y1="43.8" x2="-58.7" y2="75.7" stroke="#fcecaa" stroke-width="1.4"/>
<line x1="-29.0" y1="41.7" x2="-60.8" y2="73.5" stroke="#fcecaa" stroke-width="1.4"/>
<line x1="-31.1" y1="39.6" x2="-62.9" y2="71.4" stroke="#fcecaa" stroke-width="1.4"/>
<line x1="-33.2" y1="37.5" x2="-65.1" y2="69.3" stroke="#fcecaa" stroke-width="1.4"/>
<line x1="-35.4" y1="35.4" x2="-67.2" y2="67.2" stroke="#fcecaa" stroke-width="1.4"/>
<line x1="-37.5" y1="33.2" x2="-69.3" y2="65.1" stroke="#fcecaa" stroke-width="1.4"/>
<line x1="-39.6" y1="31.1" x2="-71.4" y2="62.9" stroke="#fcecaa" stroke-width="1.4"/>
<line x1="-41.7" y1="29.0" x2="-73.5" y2="60.8" stroke="#fcecaa" stroke-width="1.4"/>
<line x1="-43.8" y1="26.9" x2="-75.7" y2="58.7" stroke="#fcecaa" stroke-width="1.4"/>
<line x1="-39.1" y1="33.4" x2="-79.2" y2="53.8" stroke="#fcecaa" stroke-width="1.4"/>
<line x1="-40.5" y1="30.7" x2="-80.6" y2="51.1" stroke="#fcecaa" stroke-width="1.4"/>
<line x1="-41.8" y1="28.0" x2="-81.9" y2="48.5" stroke="#fcecaa" stroke-width="1.4"/>
<line x1="-43.2" y1="25.4" x2="-83.3" y2="45.8" stroke="#fcecaa" stroke-width="1.4"/>
<line x1="-44.6" y1="22.7" x2="-84.6" y2="43.1" stroke="#fcecaa" stroke-width="1.4"/>
<line x1="-45.9" y1="20.0" x2="-86.0" y2="40.5" stroke="#fcecaa" stroke-width="1.4"/>
<line x1="-47.3" y1="17.4" x2="-87.4" y2="37.8" stroke="#fcecaa" stroke-width="1.4"/>
<line x1="-48.6" y1="14.7" x2="-88.7" y2="35.1" stroke="#fcecaa" stroke-width="1.4"/>
<line x1="-50.0" y1="12.0" x2="-90.1" y2="32.4" stroke="#fcecaa" stroke-width="1.4"/>
<line x1="-47.5" y1="19.7" x2="-92.0" y2="26.7" stroke="#fcecaa" stroke-width="1.4"/>
<line x1="-48.0" y1="16.7" x2="-92.4" y2="23.8" stroke="#fcecaa" stroke-width="1.4"/>
<line x1="-48.4" y1="13.7" x2="-92.9" y2="20.8" stroke="#fcecaa" stroke-width="1.4"/>
<line x1="-48.9" y1="10.8" x2="-93.4" y2="17.8" stroke="#fcecaa" stroke-width="1.4"/>
<line x1="-49.4" y1="7.8" x2="-93.8" y2="14.9" stroke="#fcecaa" stroke-width="1.4"/>
<line x1="-49.9" y1="4.9" x2="-94.3" y2="11.9" stroke="#fcecaa" stroke-width="1.4"/>
<line x1="-50.3" y1="1.9" x2="-94.8" y2="8.9" stroke="#fcecaa" stroke-width="1.4"/>
<line x1="-50.8" y1="-1.1" x2="-95.2" y2="6.0" stroke="#fcecaa" stroke-width="1.4"/>
<line x1="-51.3" y1="-4.0" x2="-95.7" y2="3.0" stroke="#fcecaa" stroke-width="1.4"/>
<line x1="-51.3" y1="4.0" x2="-95.7" y2="-3.0" stroke="#fcecaa" stroke-width="1.4"/>
<line x1="-50.8" y1="1.1" x2="-95.2" y2="-6.0" stroke="#fcecaa" stroke-width="1.4"/>
<line x1="-50.3" y1="-1.9" x2="-94.8" y2="-8.9" stroke="#fcecaa" stroke-width="1.4"/>
<line x1="-49.9" y1="-4.9" x2="-94.3" y2="-11.9" stroke="#fcecaa" stroke-width="1.4"/>
<line x1="-49.4" y1="-7.8" x2="-93.8" y2="-14.9" stroke="#fcecaa" stroke-width="1.4"/>
<line x1="-48.9" y1="-10.8" x2="-93.4" y2="-17.8" stroke="#fcecaa" stroke-width="1.4"/>
<line x1="-48.4" y1="-13.7" x2="-92.9" y2="-20.8" stroke="#fcecaa" stroke-width="1.4"/>
<line x1="-48.0" y1="-16.7" x2="-92.4" y2="-23.8" stroke="#fcecaa" stroke-width="1.4"/>
<line x1="-47.5" y1="-19.7" x2="-92.0" y2="-26.7" stroke="#fcecaa" stroke-width="1.4"/>
<line x1="-50.0" y1="-12.0" x2="-90.1" y2="-32.4" stroke="#fcecaa" stroke-width="1.4"/>
<line x1="-48.6" y1="-14.7" x2="-88.7" y2="-35.1" stroke="#fcecaa" stroke-width="1.4"/>
<line x1="-47.3" y1="-17.4" x2="-87.4" y2="-37.8" stroke="#fcecaa" stroke-width="1.4"/>
<line x1="-45.9" y1="-20.0" x2="-86.0" y2="-40.5" stroke="#fcecaa" stroke-width="1.4"/>
<line x1="-44.6" y1="-22.7" x2="-84.6" y2="-43.1" stroke="#fcecaa" stroke-width="1.4"/>
<line x1="-43.2" y1="-25.4" x2="-83.3" y2="-45.8" stroke="#fcecaa" stroke-width="1.4"/>
<line x1="-41.8" y1="-28.0" x2="-81.9" y2="-48.5" stroke="#fcecaa" stroke-width="1.4"/>
<line x1="-40.5" y1="-30.7" x2="-80.6" y2="-51.1" stroke="#fcecaa" stroke-width="1.4"/>
<line x1="-39.1" y1="-33.4" x2="-79.2" y2="-53.8" stroke="#fcecaa" stroke-width="1.4"/>
<line x1="-43.8" y1="-26.9" x2="-75.7" y2="-58.7" stroke="#fcecaa" stroke-width="1.4"/>
<line x1="-41.7" y1="-29.0" x2="-73.5" y2="-60.8" stroke="#fcecaa" stroke-width="1.4"/>
<line x1="-39.6" y1="-31.1" x2="-71.4" y2="-62.9" stroke="#fcecaa" stroke-width="1.4"/>
<line x1="-37.5" y1="-33.2" x2="-69.3" y2="-65.1" stroke="#fcecaa" stroke-width="1.4"/>
<line x1="-35.4" y1="-35.4" x2="-67.2" y2="-67.2" stroke="#fcecaa" stroke-width="1.4"/>
<line x1="-33.2" y1="-37.5" x2="-65.1" y2="-69.3" stroke="#fcecaa" stroke-width="1.4"/>
<line x1="-31.1" y1="-39.6" x2="-62.9" y2="-71.4" stroke="#fcecaa" stroke-width="1.4"/>
<line x1="-29.0" y1="-41.7" x2="-60.8" y2="-73.5" stroke="#fcecaa" stroke-width="1.4"/>
<line x1="-26.9" y1="-43.8" x2="-58.7" y2="-75.7" stroke="#fcecaa" stroke-width="1.4"/>
<line x1="-33.4" y1="-39.1" x2="-53.8" y2="-79.2" stroke="#fcecaa" stroke-width="1.4"/>
<line x1="-30.7" y1="-40.5" x2="-51.1" y2="-80.6" stroke="#fcecaa" stroke-width="1.4"/>
<line x1="-28.0" y1="-41.8" x2="-48.5" y2="-81.9" stroke="#fcecaa" stroke-width="1.4"/>
<line x1="-25.4" y1="-43.2" x2="-45.8" y2="-83.3" stroke="#fcecaa" stroke-width="1.4"/>
<line x1="-22.7" y1="-44.6" x2="-43.1" y2="-84.6" stroke="#fcecaa" stroke-width="1.4"/>
<line x1="-20.0" y1="-45.9" x2="-40.5" y2="-86.0" stroke="#fcecaa" stroke-width="1.4"/>
<line x1="-17.4" y1="-47.3" x2="-37.8" y2="-87.4" stroke="#fcecaa" stroke-width="1.4"/>
<line x1="-14.7" y1="-48.6" x2="-35.1" y2="-88.7" stroke="#fcecaa" stroke-width="1.4"/>
<line x1="-12.0" y1="-50.0" x2="-32.4" y2="-90.1" stroke="#fcecaa" stroke-width="1.4"/>
<line x1="-19.7" y1="-47.5" x2="-26.7" y2="-92.0" stroke="#fcecaa" stroke-width="1.4"/>
<line x1="-16.7" y1="-48.0" x2="-23.8" y2="-92.4" stroke="#fcecaa" stroke-width="1.4"/>
<line x1="-13.7" y1="-48.4" x2="-20.8" y2="-92.9" stroke="#fcecaa" stroke-width="1.4"/>
<line x1="-10.8" y1="-48.9" x2="-17.8" y2="-93.4" stroke="#fcecaa" stroke-width="1.4"/>
<line x1="-7.8" y1="-49.4" x2="-14.9" y2="-93.8" stroke="#fcecaa" stroke-width="1.4"/>
<line x1="-4.9" y1="-49.9" x2="-11.9" y2="-94.3" stroke="#fcecaa" stroke-width="1.4"/>
<line x1="-1.9" y1="-50.3" x2="-8.9" y2="-94.8" stroke="#fcecaa" stroke-width="1.4"/>
<line x1="1.1" y1="-50.8" x2="-6.0" y2="-95.2" stroke="#fcecaa" stroke-width="1.4"/>
<line x1="4.0" y1="-51.3" x2="-3.0" y2="-95.7" stroke="#fcecaa" stroke-width="1.4"/>
</g>
<line x1="0.0" y1="-40.0" x2="0.0" y2="-63.0" stroke="#2a2205" stroke-width="1.1"/>
<line x1="2.1" y1="-39.9" x2="3.3" y2="-62.9" stroke="#2a2205" stroke-width="1.1"/>
<line x1="4.2" y1="-39.8" x2="6.6" y2="-62.7" stroke="#2a2205" stroke-width="1.1"/>
<line x1="6.3" y1="-39.5" x2="9.9" y2="-62.2" stroke="#2a2205" stroke-width="1.1"/>
<line x1="8.3" y1="-39.1" x2="13.1" y2="-61.6" stroke="#2a2205" stroke-width="1.1"/>
<line x1="10.4" y1="-38.6" x2="16.3" y2="-60.9" stroke="#2a2205" stroke-width="1.1"/>
<line x1="12.4" y1="-38.0" x2="19.5" y2="-59.9" stroke="#2a2205" stroke-width="1.1"/>
<line x1="14.3" y1="-37.3" x2="22.6" y2="-58.8" stroke="#2a2205" stroke-width="1.1"/>
<line x1="16.3" y1="-36.5" x2="25.6" y2="-57.6" stroke="#2a2205" stroke-width="1.1"/>
<line x1="18.2" y1="-35.6" x2="28.6" y2="-56.1" stroke="#2a2205" stroke-width="1.1"/>
<line x1="20.0" y1="-34.6" x2="31.5" y2="-54.6" stroke="#2a2205" stroke-width="1.1"/>
<line x1="21.8" y1="-33.5" x2="34.3" y2="-52.8" stroke="#2a2205" stroke-width="1.1"/>
<line x1="23.5" y1="-32.4" x2="37.0" y2="-51.0" stroke="#2a2205" stroke-width="1.1"/>
<line x1="25.2" y1="-31.1" x2="39.6" y2="-49.0" stroke="#2a2205" stroke-width="1.1"/>
<line x1="26.8" y1="-29.7" x2="42.2" y2="-46.8" stroke="#2a2205" stroke-width="1.1"/>
<line x1="28.3" y1="-28.3" x2="44.5" y2="-44.5" stroke="#2a2205" stroke-width="1.1"/>
<line x1="29.7" y1="-26.8" x2="46.8" y2="-42.2" stroke="#2a2205" stroke-width="1.1"/>
<line x1="31.1" y1="-25.2" x2="49.0" y2="-39.6" stroke="#2a2205" stroke-width="1.1"/>
<line x1="32.4" y1="-23.5" x2="51.0" y2="-37.0" stroke="#2a2205" stroke-width="1.1"/>
<line x1="33.5" y1="-21.8" x2="52.8" y2="-34.3" stroke="#2a2205" stroke-width="1.1"/>
<line x1="34.6" y1="-20.0" x2="54.6" y2="-31.5" stroke="#2a2205" stroke-width="1.1"/>
<line x1="35.6" y1="-18.2" x2="56.1" y2="-28.6" stroke="#2a2205" stroke-width="1.1"/>
<line x1="36.5" y1="-16.3" x2="57.6" y2="-25.6" stroke="#2a2205" stroke-width="1.1"/>
<line x1="37.3" y1="-14.3" x2="58.8" y2="-22.6" stroke="#2a2205" stroke-width="1.1"/>
<line x1="38.0" y1="-12.4" x2="59.9" y2="-19.5" stroke="#2a2205" stroke-width="1.1"/>
<line x1="38.6" y1="-10.4" x2="60.9" y2="-16.3" stroke="#2a2205" stroke-width="1.1"/>
<line x1="39.1" y1="-8.3" x2="61.6" y2="-13.1" stroke="#2a2205" stroke-width="1.1"/>
<line x1="39.5" y1="-6.3" x2="62.2" y2="-9.9" stroke="#2a2205" stroke-width="1.1"/>
<line x1="39.8" y1="-4.2" x2="62.7" y2="-6.6" stroke="#2a2205" stroke-width="1.1"/>
<line x1="39.9" y1="-2.1" x2="62.9" y2="-3.3" stroke="#2a2205" stroke-width="1.1"/>
<line x1="40.0" y1="-0.0" x2="63.0" y2="-0.0" stroke="#2a2205" stroke-width="1.1"/>
<line x1="39.9" y1="2.1" x2="62.9" y2="3.3" stroke="#2a2205" stroke-width="1.1"/>
<line x1="39.8" y1="4.2" x2="62.7" y2="6.6" stroke="#2a2205" stroke-width="1.1"/>
<line x1="39.5" y1="6.3" x2="62.2" y2="9.9" stroke="#2a2205" stroke-width="1.1"/>
<line x1="39.1" y1="8.3" x2="61.6" y2="13.1" stroke="#2a2205" stroke-width="1.1"/>
<line x1="38.6" y1="10.4" x2="60.9" y2="16.3" stroke="#2a2205" stroke-width="1.1"/>
<line x1="38.0" y1="12.4" x2="59.9" y2="19.5" stroke="#2a2205" stroke-width="1.1"/>
<line x1="37.3" y1="14.3" x2="58.8" y2="22.6" stroke="#2a2205" stroke-width="1.1"/>
<line x1="36.5" y1="16.3" x2="57.6" y2="25.6" stroke="#2a2205" stroke-width="1.1"/>
<line x1="35.6" y1="18.2" x2="56.1" y2="28.6" stroke="#2a2205" stroke-width="1.1"/>
<line x1="34.6" y1="20.0" x2="54.6" y2="31.5" stroke="#2a2205" stroke-width="1.1"/>
<line x1="33.5" y1="21.8" x2="52.8" y2="34.3" stroke="#2a2205" stroke-width="1.1"/>
<line x1="32.4" y1="23.5" x2="51.0" y2="37.0" stroke="#2a2205" stroke-width="1.1"/>
<line x1="31.1" y1="25.2" x2="49.0" y2="39.6" stroke="#2a2205" stroke-width="1.1"/>
<line x1="29.7" y1="26.8" x2="46.8" y2="42.2" stroke="#2a2205" stroke-width="1.1"/>
<line x1="28.3" y1="28.3" x2="44.5" y2="44.5" stroke="#2a2205" stroke-width="1.1"/>
<line x1="26.8" y1="29.7" x2="42.2" y2="46.8" stroke="#2a2205" stroke-width="1.1"/>
<line x1="25.2" y1="31.1" x2="39.6" y2="49.0" stroke="#2a2205" stroke-width="1.1"/>
<line x1="23.5" y1="32.4" x2="37.0" y2="51.0" stroke="#2a2205" stroke-width="1.1"/>
<line x1="21.8" y1="33.5" x2="34.3" y2="52.8" stroke="#2a2205" stroke-width="1.1"/>
<line x1="20.0" y1="34.6" x2="31.5" y2="54.6" stroke="#2a2205" stroke-width="1.1"/>
<line x1="18.2" y1="35.6" x2="28.6" y2="56.1" stroke="#2a2205" stroke-width="1.1"/>
<line x1="16.3" y1="36.5" x2="25.6" y2="57.6" stroke="#2a2205" stroke-width="1.1"/>
<line x1="14.3" y1="37.3" x2="22.6" y2="58.8" stroke="#2a2205" stroke-width="1.1"/>
<line x1="12.4" y1="38.0" x2="19.5" y2="59.9" stroke="#2a2205" stroke-width="1.1"/>
<line x1="10.4" y1="38.6" x2="16.3" y2="60.9" stroke="#2a2205" stroke-width="1.1"/>
<line x1="8.3" y1="39.1" x2="13.1" y2="61.6" stroke="#2a2205" stroke-width="1.1"/>
<line x1="6.3" y1="39.5" x2="9.9" y2="62.2" stroke="#2a2205" stroke-width="1.1"/>
<line x1="4.2" y1="39.8" x2="6.6" y2="62.7" stroke="#2a2205" stroke-width="1.1"/>
<line x1="2.1" y1="39.9" x2="3.3" y2="62.9" stroke="#2a2205" stroke-width="1.1"/>
<line x1="0.0" y1="40.0" x2="0.0" y2="63.0" stroke="#2a2205" stroke-width="1.1"/>
<line x1="-2.1" y1="39.9" x2="-3.3" y2="62.9" stroke="#2a2205" stroke-width="1.1"/>
<line x1="-4.2" y1="39.8" x2="-6.6" y2="62.7" stroke="#2a2205" stroke-width="1.1"/>
<line x1="-6.3" y1="39.5" x2="-9.9" y2="62.2" stroke="#2a2205" stroke-width="1.1"/>
<line x1="-8.3" y1="39.1" x2="-13.1" y2="61.6" stroke="#2a2205" stroke-width="1.1"/>
<line x1="-10.4" y1="38.6" x2="-16.3" y2="60.9" stroke="#2a2205" stroke-width="1.1"/>
<line x1="-12.4" y1="38.0" x2="-19.5" y2="59.9" stroke="#2a2205" stroke-width="1.1"/>
<line x1="-14.3" y1="37.3" x2="-22.6" y2="58.8" stroke="#2a2205" stroke-width="1.1"/>
<line x1="-16.3" y1="36.5" x2="-25.6" y2="57.6" stroke="#2a2205" stroke-width="1.1"/>
<line x1="-18.2" y1="35.6" x2="-28.6" y2="56.1" stroke="#2a2205" stroke-width="1.1"/>
<line x1="-20.0" y1="34.6" x2="-31.5" y2="54.6" stroke="#2a2205" stroke-width="1.1"/>
<line x1="-21.8" y1="33.5" x2="-34.3" y2="52.8" stroke="#2a2205" stroke-width="1.1"/>
<line x1="-23.5" y1="32.4" x2="-37.0" y2="51.0" stroke="#2a2205" stroke-width="1.1"/>
<line x1="-25.2" y1="31.1" x2="-39.6" y2="49.0" stroke="#2a2205" stroke-width="1.1"/>
<line x1="-26.8" y1="29.7" x2="-42.2" y2="46.8" stroke="#2a2205" stroke-width="1.1"/>
<line x1="-28.3" y1="28.3" x2="-44.5" y2="44.5" stroke="#2a2205" stroke-width="1.1"/>
<line x1="-29.7" y1="26.8" x2="-46.8" y2="42.2" stroke="#2a2205" stroke-width="1.1"/>
<line x1="-31.1" y1="25.2" x2="-49.0" y2="39.6" stroke="#2a2205" stroke-width="1.1"/>
<line x1="-32.4" y1="23.5" x2="-51.0" y2="37.0" stroke="#2a2205" stroke-width="1.1"/>
<line x1="-33.5" y1="21.8" x2="-52.8" y2="34.3" stroke="#2a2205" stroke-width="1.1"/>
<line x1="-34.6" y1="20.0" x2="-54.6" y2="31.5" stroke="#2a2205" stroke-width="1.1"/>
<line x1="-35.6" y1="18.2" x2="-56.1" y2="28.6" stroke="#2a2205" stroke-width="1.1"/>
<line x1="-36.5" y1="16.3" x2="-57.6" y2="25.6" stroke="#2a2205" stroke-width="1.1"/>
<line x1="-37.3" y1="14.3" x2="-58.8" y2="22.6" stroke="#2a2205" stroke-width="1.1"/>
<line x1="-38.0" y1="12.4" x2="-59.9" y2="19.5" stroke="#2a2205" stroke-width="1.1"/>
<line x1="-38.6" y1="10.4" x2="-60.9" y2="16.3" stroke="#2a2205" stroke-width="1.1"/>
<line x1="-39.1" y1="8.3" x2="-61.6" y2="13.1" stroke="#2a2205" stroke-width="1.1"/>
<line x1="-39.5" y1="6.3" x2="-62.2" y2="9.9" stroke="#2a2205" stroke-width="1.1"/>
<line x1="-39.8" y1="4.2" x2="-62.7" y2="6.6" stroke="#2a2205" stroke-width="1.1"/>
<line x1="-39.9" y1="2.1" x2="-62.9" y2="3.3" stroke="#2a2205" stroke-width="1.1"/>
<line x1="-40.0" y1="0.0" x2="-63.0" y2="0.0" stroke="#2a2205" stroke-width="1.1"/>
<line x1="-39.9" y1="-2.1" x2="-62.9" y2="-3.3" stroke="#2a2205" stroke-width="1.1"/>
<line x1="-39.8" y1="-4.2" x2="-62.7" y2="-6.6" stroke="#2a2205" stroke-width="1.1"/>
<line x1="-39.5" y1="-6.3" x2="-62.2" y2="-9.9" stroke="#2a2205" stroke-width="1.1"/>
<line x1="-39.1" y1="-8.3" x2="-61.6" y2="-13.1" stroke="#2a2205" stroke-width="1.1"/>
<line x1="-38.6" y1="-10.4" x2="-60.9" y2="-16.3" stroke="#2a2205" stroke-width="1.1"/>
<line x1="-38.0" y1="-12.4" x2="-59.9" y2="-19.5" stroke="#2a2205" stroke-width="1.1"/>
<line x1="-37.3" y1="-14.3" x2="-58.8" y2="-22.6" stroke="#2a2205" stroke-width="1.1"/>
<line x1="-36.5" y1="-16.3" x2="-57.6" y2="-25.6" stroke="#2a2205" stroke-width="1.1"/>
<line x1="-35.6" y1="-18.2" x2="-56.1" y2="-28.6" stroke="#2a2205" stroke-width="1.1"/>
<line x1="-34.6" y1="-20.0" x2="-54.6" y2="-31.5" stroke="#2a2205" stroke-width="1.1"/>
<line x1="-33.5" y1="-21.8" x2="-52.8" y2="-34.3" stroke="#2a2205" stroke-width="1.1"/>
<line x1="-32.4" y1="-23.5" x2="-51.0" y2="-37.0" stroke="#2a2205" stroke-width="1.1"/>
<line x1="-31.1" y1="-25.2" x2="-49.0" y2="-39.6" stroke="#2a2205" stroke-width="1.1"/>
<line x1="-29.7" y1="-26.8" x2="-46.8" y2="-42.2" stroke="#2a2205" stroke-width="1.1"/>
<line x1="-28.3" y1="-28.3" x2="-44.5" y2="-44.5" stroke="#2a2205" stroke-width="1.1"/>
<line x1="-26.8" y1="-29.7" x2="-42.2" y2="-46.8" stroke="#2a2205" stroke-width="1.1"/>
<line x1="-25.2" y1="-31.1" x2="-39.6" y2="-49.0" stroke="#2a2205" stroke-width="1.1"/>
<line x1="-23.5" y1="-32.4" x2="-37.0" y2="-51.0" stroke="#2a2205" stroke-width="1.1"/>
<line x1="-21.8" y1="-33.5" x2="-34.3" y2="-52.8" stroke="#2a2205" stroke-width="1.1"/>
<line x1="-20.0" y1="-34.6" x2="-31.5" y2="-54.6" stroke="#2a2205" stroke-width="1.1"/>
<line x1="-18.2" y1="-35.6" x2="-28.6" y2="-56.1" stroke="#2a2205" stroke-width="1.1"/>
<line x1="-16.3" y1="-36.5" x2="-25.6" y2="-57.6" stroke="#2a2205" stroke-width="1.1"/>
<line x1="-14.3" y1="-37.3" x2="-22.6" y2="-58.8" stroke="#2a2205" stroke-width="1.1"/>
<line x1="-12.4" y1="-38.0" x2="-19.5" y2="-59.9" stroke="#2a2205" stroke-width="1.1"/>
<line x1="-10.4" y1="-38.6" x2="-16.3" y2="-60.9" stroke="#2a2205" stroke-width="1.1"/>
<line x1="-8.3" y1="-39.1" x2="-13.1" y2="-61.6" stroke="#2a2205" stroke-width="1.1"/>
<line x1="-6.3" y1="-39.5" x2="-9.9" y2="-62.2" stroke="#2a2205" stroke-width="1.1"/>
<line x1="-4.2" y1="-39.8" x2="-6.6" y2="-62.7" stroke="#2a2205" stroke-width="1.1"/>
<line x1="-2.1" y1="-39.9" x2="-3.3" y2="-62.9" stroke="#2a2205" stroke-width="1.1"/>
<g transform="translate(-10.3,73.3) rotate(227.0)"><path d="M0,0 C6.4,-4.5 6.4,-14.1 0,-22.7 C-6.4,-14.1 -6.4,-4.5 0,0Z" fill="#0c8a3a" stroke="#04240f" stroke-width="1.25"/><path d="M0.8,-2.3 C5.1,-6.4 4.6,-14.1 0.6,-20.5Z" fill="#2fae58"/><path d="M-0.8,-2.3 C-5.1,-6.4 -4.6,-14.1 -0.6,-20.5Z" fill="#1c9a48"/><path d="M0,0L0,-21.6" stroke="#04240f" stroke-width=".8" fill="none"/></g>
<g transform="translate(-10.3,73.3) rotate(319.4)"><path d="M0,0 C6.4,-4.7 6.4,-14.5 0,-23.3 C-6.4,-14.5 -6.4,-4.7 0,0Z" fill="#0c8a3a" stroke="#04240f" stroke-width="1.25"/><path d="M0.8,-2.3 C5.1,-6.5 4.6,-14.5 0.6,-21.0Z" fill="#2fae58"/><path d="M-0.8,-2.3 C-5.1,-6.5 -4.6,-14.5 -0.6,-21.0Z" fill="#1c9a48"/><path d="M0,0L0,-22.2" stroke="#04240f" stroke-width=".8" fill="none"/></g>
<g transform="translate(-10.3,73.3) rotate(253.9)"><path d="M0,0 C6.4,-5.0 6.4,-15.4 0,-24.8 C-6.4,-15.4 -6.4,-5.0 0,0Z" fill="#0c8a3a" stroke="#04240f" stroke-width="1.25"/><path d="M0.8,-2.5 C5.1,-6.9 4.6,-15.4 0.6,-22.3Z" fill="#2fae58"/><path d="M-0.8,-2.5 C-5.1,-6.9 -4.6,-15.4 -0.6,-22.3Z" fill="#1c9a48"/><path d="M0,0L0,-23.5" stroke="#04240f" stroke-width=".8" fill="none"/></g>
<g transform="translate(-10.3,73.3) rotate(293.7)"><path d="M0,0 C6.4,-4.7 6.4,-14.5 0,-23.4 C-6.4,-14.5 -6.4,-4.7 0,0Z" fill="#0c8a3a" stroke="#04240f" stroke-width="1.25"/><path d="M0.8,-2.3 C5.1,-6.6 4.6,-14.5 0.6,-21.1Z" fill="#2fae58"/><path d="M-0.8,-2.3 C-5.1,-6.6 -4.6,-14.5 -0.6,-21.1Z" fill="#1c9a48"/><path d="M0,0L0,-22.2" stroke="#04240f" stroke-width=".8" fill="none"/></g>
<g transform="translate(-10.3,73.3) rotate(281.5)"><path d="M0,0 C6.4,-5.1 6.4,-15.8 0,-25.4 C-6.4,-15.8 -6.4,-5.1 0,0Z" fill="#0c8a3a" stroke="#04240f" stroke-width="1.25"/><path d="M0.8,-2.5 C5.1,-7.1 4.6,-15.8 0.6,-22.9Z" fill="#2fae58"/><path d="M-0.8,-2.5 C-5.1,-7.1 -4.6,-15.8 -0.6,-22.9Z" fill="#1c9a48"/><path d="M0,0L0,-24.2" stroke="#04240f" stroke-width=".8" fill="none"/></g>
<g transform="translate(-29.3,65.8) rotate(245.2)"><path d="M0,0 C6.4,-4.2 6.4,-12.9 0,-20.8 C-6.4,-12.9 -6.4,-4.2 0,0Z" fill="#0c8a3a" stroke="#04240f" stroke-width="1.25"/><path d="M0.8,-2.1 C5.1,-5.8 4.6,-12.9 0.6,-18.8Z" fill="#2fae58"/><path d="M-0.8,-2.1 C-5.1,-5.8 -4.6,-12.9 -0.6,-18.8Z" fill="#1c9a48"/><path d="M0,0L0,-19.8" stroke="#04240f" stroke-width=".8" fill="none"/></g>
<g transform="translate(-29.3,65.8) rotate(332.8)"><path d="M0,0 C6.4,-4.2 6.4,-13.2 0,-21.2 C-6.4,-13.2 -6.4,-4.2 0,0Z" fill="#0c8a3a" stroke="#04240f" stroke-width="1.25"/><path d="M0.8,-2.1 C5.1,-5.9 4.6,-13.2 0.6,-19.1Z" fill="#2fae58"/><path d="M-0.8,-2.1 C-5.1,-5.9 -4.6,-13.2 -0.6,-19.1Z" fill="#1c9a48"/><path d="M0,0L0,-20.2" stroke="#04240f" stroke-width=".8" fill="none"/></g>
<g transform="translate(-29.3,65.8) rotate(268.4)"><path d="M0,0 C6.4,-4.7 6.4,-14.7 0,-23.7 C-6.4,-14.7 -6.4,-4.7 0,0Z" fill="#0c8a3a" stroke="#04240f" stroke-width="1.25"/><path d="M0.8,-2.4 C5.1,-6.6 4.6,-14.7 0.6,-21.3Z" fill="#2fae58"/><path d="M-0.8,-2.4 C-5.1,-6.6 -4.6,-14.7 -0.6,-21.3Z" fill="#1c9a48"/><path d="M0,0L0,-22.5" stroke="#04240f" stroke-width=".8" fill="none"/></g>
<g transform="translate(-29.3,65.8) rotate(309.6)"><path d="M0,0 C6.4,-4.5 6.4,-14.0 0,-22.7 C-6.4,-14.0 -6.4,-4.5 0,0Z" fill="#0c8a3a" stroke="#04240f" stroke-width="1.25"/><path d="M0.8,-2.3 C5.1,-6.3 4.6,-14.0 0.6,-20.4Z" fill="#2fae58"/><path d="M-0.8,-2.3 C-5.1,-6.3 -4.6,-14.0 -0.6,-20.4Z" fill="#1c9a48"/><path d="M0,0L0,-21.5" stroke="#04240f" stroke-width=".8" fill="none"/></g>
<g transform="translate(-29.3,65.8) rotate(292.2)"><path d="M0,0 C6.4,-5.2 6.4,-16.3 0,-26.2 C-6.4,-16.3 -6.4,-5.2 0,0Z" fill="#0c8a3a" stroke="#04240f" stroke-width="1.25"/><path d="M0.8,-2.6 C5.1,-7.3 4.6,-16.3 0.6,-23.6Z" fill="#2fae58"/><path d="M-0.8,-2.6 C-5.1,-7.3 -4.6,-16.3 -0.6,-23.6Z" fill="#1c9a48"/><path d="M0,0L0,-24.9" stroke="#04240f" stroke-width=".8" fill="none"/></g>
<g transform="translate(-41.9,53.6) rotate(258.1)"><path d="M0,0 C6.4,-4.2 6.4,-13.0 0,-21.0 C-6.4,-13.0 -6.4,-4.2 0,0Z" fill="#0c8a3a" stroke="#04240f" stroke-width="1.25"/><path d="M0.8,-2.1 C5.1,-5.9 4.6,-13.0 0.6,-18.9Z" fill="#2fae58"/><path d="M-0.8,-2.1 C-5.1,-5.9 -4.6,-13.0 -0.6,-18.9Z" fill="#1c9a48"/><path d="M0,0L0,-19.9" stroke="#04240f" stroke-width=".8" fill="none"/></g>
<g transform="translate(-41.9,53.6) rotate(349.4)"><path d="M0,0 C6.4,-4.2 6.4,-13.0 0,-20.9 C-6.4,-13.0 -6.4,-4.2 0,0Z" fill="#0c8a3a" stroke="#04240f" stroke-width="1.25"/><path d="M0.8,-2.1 C5.1,-5.9 4.6,-13.0 0.6,-18.8Z" fill="#2fae58"/><path d="M-0.8,-2.1 C-5.1,-5.9 -4.6,-13.0 -0.6,-18.8Z" fill="#1c9a48"/><path d="M0,0L0,-19.9" stroke="#04240f" stroke-width=".8" fill="none"/></g>
<g transform="translate(-41.9,53.6) rotate(282.9)"><path d="M0,0 C6.4,-4.5 6.4,-13.9 0,-22.4 C-6.4,-13.9 -6.4,-4.5 0,0Z" fill="#0c8a3a" stroke="#04240f" stroke-width="1.25"/><path d="M0.8,-2.2 C5.1,-6.3 4.6,-13.9 0.6,-20.1Z" fill="#2fae58"/><path d="M-0.8,-2.2 C-5.1,-6.3 -4.6,-13.9 -0.6,-20.1Z" fill="#1c9a48"/><path d="M0,0L0,-21.3" stroke="#04240f" stroke-width=".8" fill="none"/></g>
<g transform="translate(-41.9,53.6) rotate(323.5)"><path d="M0,0 C6.4,-4.9 6.4,-15.3 0,-24.6 C-6.4,-15.3 -6.4,-4.9 0,0Z" fill="#0c8a3a" stroke="#04240f" stroke-width="1.25"/><path d="M0.8,-2.5 C5.1,-6.9 4.6,-15.3 0.6,-22.2Z" fill="#2fae58"/><path d="M-0.8,-2.5 C-5.1,-6.9 -4.6,-15.3 -0.6,-22.2Z" fill="#1c9a48"/><path d="M0,0L0,-23.4" stroke="#04240f" stroke-width=".8" fill="none"/></g>
<g transform="translate(-41.9,53.6) rotate(305.7)"><path d="M0,0 C6.4,-4.8 6.4,-15.0 0,-24.1 C-6.4,-15.0 -6.4,-4.8 0,0Z" fill="#0c8a3a" stroke="#04240f" stroke-width="1.25"/><path d="M0.8,-2.4 C5.1,-6.8 4.6,-15.0 0.6,-21.7Z" fill="#2fae58"/><path d="M-0.8,-2.4 C-5.1,-6.8 -4.6,-15.0 -0.6,-21.7Z" fill="#1c9a48"/><path d="M0,0L0,-22.9" stroke="#04240f" stroke-width=".8" fill="none"/></g>
<g transform="translate(-6.3,59.7) rotate(227.9)"><path d="M0,0 C6.4,-4.6 6.4,-14.3 0,-23.1 C-6.4,-14.3 -6.4,-4.6 0,0Z" fill="#0c8a3a" stroke="#04240f" stroke-width="1.25"/><path d="M0.8,-2.3 C5.1,-6.5 4.6,-14.3 0.6,-20.8Z" fill="#2fae58"/><path d="M-0.8,-2.3 C-5.1,-6.5 -4.6,-14.3 -0.6,-20.8Z" fill="#1c9a48"/><path d="M0,0L0,-22.0" stroke="#04240f" stroke-width=".8" fill="none"/></g>
<g transform="translate(-6.3,59.7) rotate(313.3)"><path d="M0,0 C6.4,-4.7 6.4,-14.5 0,-23.4 C-6.4,-14.5 -6.4,-4.7 0,0Z" fill="#0c8a3a" stroke="#04240f" stroke-width="1.25"/><path d="M0.8,-2.3 C5.1,-6.5 4.6,-14.5 0.6,-21.0Z" fill="#2fae58"/><path d="M-0.8,-2.3 C-5.1,-6.5 -4.6,-14.5 -0.6,-21.0Z" fill="#1c9a48"/><path d="M0,0L0,-22.2" stroke="#04240f" stroke-width=".8" fill="none"/></g>
<g transform="translate(-6.3,59.7) rotate(250.3)"><path d="M0,0 C6.4,-4.8 6.4,-14.9 0,-24.0 C-6.4,-14.9 -6.4,-4.8 0,0Z" fill="#0c8a3a" stroke="#04240f" stroke-width="1.25"/><path d="M0.8,-2.4 C5.1,-6.7 4.6,-14.9 0.6,-21.6Z" fill="#2fae58"/><path d="M-0.8,-2.4 C-5.1,-6.7 -4.6,-14.9 -0.6,-21.6Z" fill="#1c9a48"/><path d="M0,0L0,-22.8" stroke="#04240f" stroke-width=".8" fill="none"/></g>
<g transform="translate(-6.3,59.7) rotate(293.1)"><path d="M0,0 C6.4,-5.0 6.4,-15.4 0,-24.8 C-6.4,-15.4 -6.4,-5.0 0,0Z" fill="#0c8a3a" stroke="#04240f" stroke-width="1.25"/><path d="M0.8,-2.5 C5.1,-7.0 4.6,-15.4 0.6,-22.3Z" fill="#2fae58"/><path d="M-0.8,-2.5 C-5.1,-7.0 -4.6,-15.4 -0.6,-22.3Z" fill="#1c9a48"/><path d="M0,0L0,-23.6" stroke="#04240f" stroke-width=".8" fill="none"/></g>
<g transform="translate(-6.3,59.7) rotate(277.5)"><path d="M0,0 C6.4,-5.3 6.4,-16.4 0,-26.4 C-6.4,-16.4 -6.4,-5.3 0,0Z" fill="#0c8a3a" stroke="#04240f" stroke-width="1.25"/><path d="M0.8,-2.6 C5.1,-7.4 4.6,-16.4 0.6,-23.8Z" fill="#2fae58"/><path d="M-0.8,-2.6 C-5.1,-7.4 -4.6,-16.4 -0.6,-23.8Z" fill="#1c9a48"/><path d="M0,0L0,-25.1" stroke="#04240f" stroke-width=".8" fill="none"/></g>
<g transform="translate(-23.4,55.2) rotate(244.1)"><path d="M0,0 C6.4,-4.3 6.4,-13.3 0,-21.4 C-6.4,-13.3 -6.4,-4.3 0,0Z" fill="#0c8a3a" stroke="#04240f" stroke-width="1.25"/><path d="M0.8,-2.1 C5.1,-6.0 4.6,-13.3 0.6,-19.3Z" fill="#2fae58"/><path d="M-0.8,-2.1 C-5.1,-6.0 -4.6,-13.3 -0.6,-19.3Z" fill="#1c9a48"/><path d="M0,0L0,-20.3" stroke="#04240f" stroke-width=".8" fill="none"/></g>
<g transform="translate(-23.4,55.2) rotate(330.9)"><path d="M0,0 C6.4,-4.2 6.4,-13.0 0,-21.0 C-6.4,-13.0 -6.4,-4.2 0,0Z" fill="#0c8a3a" stroke="#04240f" stroke-width="1.25"/><path d="M0.8,-2.1 C5.1,-5.9 4.6,-13.0 0.6,-18.9Z" fill="#2fae58"/><path d="M-0.8,-2.1 C-5.1,-5.9 -4.6,-13.0 -0.6,-18.9Z" fill="#1c9a48"/><path d="M0,0L0,-19.9" stroke="#04240f" stroke-width=".8" fill="none"/></g>
<g transform="translate(-23.4,55.2) rotate(264.2)"><path d="M0,0 C6.4,-4.4 6.4,-13.8 0,-22.2 C-6.4,-13.8 -6.4,-4.4 0,0Z" fill="#0c8a3a" stroke="#04240f" stroke-width="1.25"/><path d="M0.8,-2.2 C5.1,-6.2 4.6,-13.8 0.6,-20.0Z" fill="#2fae58"/><path d="M-0.8,-2.2 C-5.1,-6.2 -4.6,-13.8 -0.6,-20.0Z" fill="#1c9a48"/><path d="M0,0L0,-21.1" stroke="#04240f" stroke-width=".8" fill="none"/></g>
<g transform="translate(-23.4,55.2) rotate(310.9)"><path d="M0,0 C6.4,-4.8 6.4,-14.8 0,-23.8 C-6.4,-14.8 -6.4,-4.8 0,0Z" fill="#0c8a3a" stroke="#04240f" stroke-width="1.25"/><path d="M0.8,-2.4 C5.1,-6.7 4.6,-14.8 0.6,-21.4Z" fill="#2fae58"/><path d="M-0.8,-2.4 C-5.1,-6.7 -4.6,-14.8 -0.6,-21.4Z" fill="#1c9a48"/><path d="M0,0L0,-22.6" stroke="#04240f" stroke-width=".8" fill="none"/></g>
<g transform="translate(-23.4,55.2) rotate(289.0)"><path d="M0,0 C6.4,-5.1 6.4,-15.8 0,-25.5 C-6.4,-15.8 -6.4,-5.1 0,0Z" fill="#0c8a3a" stroke="#04240f" stroke-width="1.25"/><path d="M0.8,-2.6 C5.1,-7.1 4.6,-15.8 0.6,-23.0Z" fill="#2fae58"/><path d="M-0.8,-2.6 C-5.1,-7.1 -4.6,-15.8 -0.6,-23.0Z" fill="#1c9a48"/><path d="M0,0L0,-24.3" stroke="#04240f" stroke-width=".8" fill="none"/></g>
<g transform="translate(-42.0,48.3) rotate(257.7)"><path d="M0,0 C6.8,-4.6 6.8,-14.4 0,-23.2 C-6.8,-14.4 -6.8,-4.6 0,0Z" fill="#0c8a3a" stroke="#04240f" stroke-width="1.25"/><path d="M0.8,-2.3 C5.4,-6.5 4.9,-14.4 0.7,-20.9Z" fill="#2fae58"/><path d="M-0.8,-2.3 C-5.4,-6.5 -4.9,-14.4 -0.7,-20.9Z" fill="#1c9a48"/><path d="M0,0L0,-22.0" stroke="#04240f" stroke-width=".8" fill="none"/></g>
<g transform="translate(-42.0,48.3) rotate(352.5)"><path d="M0,0 C6.8,-4.7 6.8,-14.7 0,-23.7 C-6.8,-14.7 -6.8,-4.7 0,0Z" fill="#0c8a3a" stroke="#04240f" stroke-width="1.25"/><path d="M0.8,-2.4 C5.4,-6.6 4.9,-14.7 0.7,-21.3Z" fill="#2fae58"/><path d="M-0.8,-2.4 C-5.4,-6.6 -4.9,-14.7 -0.7,-21.3Z" fill="#1c9a48"/><path d="M0,0L0,-22.5" stroke="#04240f" stroke-width=".8" fill="none"/></g>
<g transform="translate(-42.0,48.3) rotate(283.5)"><path d="M0,0 C6.8,-5.1 6.8,-15.7 0,-25.3 C-6.8,-15.7 -6.8,-5.1 0,0Z" fill="#0c8a3a" stroke="#04240f" stroke-width="1.25"/><path d="M0.8,-2.5 C5.4,-7.1 4.9,-15.7 0.7,-22.8Z" fill="#2fae58"/><path d="M-0.8,-2.5 C-5.4,-7.1 -4.9,-15.7 -0.7,-22.8Z" fill="#1c9a48"/><path d="M0,0L0,-24.1" stroke="#04240f" stroke-width=".8" fill="none"/></g>
<g transform="translate(-42.0,48.3) rotate(332.1)"><path d="M0,0 C6.8,-4.8 6.8,-14.9 0,-24.1 C-6.8,-14.9 -6.8,-4.8 0,0Z" fill="#0c8a3a" stroke="#04240f" stroke-width="1.25"/><path d="M0.8,-2.4 C5.4,-6.7 4.9,-14.9 0.7,-21.6Z" fill="#2fae58"/><path d="M-0.8,-2.4 C-5.4,-6.7 -4.9,-14.9 -0.7,-21.6Z" fill="#1c9a48"/><path d="M0,0L0,-22.8" stroke="#04240f" stroke-width=".8" fill="none"/></g>
<g transform="translate(-42.0,48.3) rotate(314.8)"><path d="M0,0 C6.8,-5.1 6.8,-15.9 0,-25.6 C-6.8,-15.9 -6.8,-5.1 0,0Z" fill="#0c8a3a" stroke="#04240f" stroke-width="1.25"/><path d="M0.8,-2.6 C5.4,-7.2 4.9,-15.9 0.7,-23.0Z" fill="#2fae58"/><path d="M-0.8,-2.6 C-5.4,-7.2 -4.9,-15.9 -0.7,-23.0Z" fill="#1c9a48"/><path d="M0,0L0,-24.3" stroke="#04240f" stroke-width=".8" fill="none"/></g>
<g transform="translate(-54.9,33.0) rotate(279.0)"><path d="M0,0 C6.8,-5.0 6.8,-15.4 0,-24.8 C-6.8,-15.4 -6.8,-5.0 0,0Z" fill="#0c8a3a" stroke="#04240f" stroke-width="1.25"/><path d="M0.8,-2.5 C5.4,-6.9 4.9,-15.4 0.7,-22.3Z" fill="#2fae58"/><path d="M-0.8,-2.5 C-5.4,-6.9 -4.9,-15.4 -0.7,-22.3Z" fill="#1c9a48"/><path d="M0,0L0,-23.6" stroke="#04240f" stroke-width=".8" fill="none"/></g>
<g transform="translate(-54.9,33.0) rotate(364.1)"><path d="M0,0 C6.8,-4.9 6.8,-15.3 0,-24.6 C-6.8,-15.3 -6.8,-4.9 0,0Z" fill="#0c8a3a" stroke="#04240f" stroke-width="1.25"/><path d="M0.8,-2.5 C5.4,-6.9 4.9,-15.3 0.7,-22.2Z" fill="#2fae58"/><path d="M-0.8,-2.5 C-5.4,-6.9 -4.9,-15.3 -0.7,-22.2Z" fill="#1c9a48"/><path d="M0,0L0,-23.4" stroke="#04240f" stroke-width=".8" fill="none"/></g>
<g transform="translate(-54.9,33.0) rotate(301.9)"><path d="M0,0 C6.8,-5.1 6.8,-15.9 0,-25.6 C-6.8,-15.9 -6.8,-5.1 0,0Z" fill="#0c8a3a" stroke="#04240f" stroke-width="1.25"/><path d="M0.8,-2.6 C5.4,-7.2 4.9,-15.9 0.7,-23.1Z" fill="#2fae58"/><path d="M-0.8,-2.6 C-5.4,-7.2 -4.9,-15.9 -0.7,-23.1Z" fill="#1c9a48"/><path d="M0,0L0,-24.3" stroke="#04240f" stroke-width=".8" fill="none"/></g>
<g transform="translate(-54.9,33.0) rotate(344.6)"><path d="M0,0 C6.8,-4.8 6.8,-14.9 0,-24.0 C-6.8,-14.9 -6.8,-4.8 0,0Z" fill="#0c8a3a" stroke="#04240f" stroke-width="1.25"/><path d="M0.8,-2.4 C5.4,-6.7 4.9,-14.9 0.7,-21.6Z" fill="#2fae58"/><path d="M-0.8,-2.4 C-5.4,-6.7 -4.9,-14.9 -0.7,-21.6Z" fill="#1c9a48"/><path d="M0,0L0,-22.8" stroke="#04240f" stroke-width=".8" fill="none"/></g>
<g transform="translate(-54.9,33.0) rotate(326.4)"><path d="M0,0 C6.8,-5.7 6.8,-17.6 0,-28.4 C-6.8,-17.6 -6.8,-5.7 0,0Z" fill="#0c8a3a" stroke="#04240f" stroke-width="1.25"/><path d="M0.8,-2.8 C5.4,-7.9 4.9,-17.6 0.7,-25.5Z" fill="#2fae58"/><path d="M-0.8,-2.8 C-5.4,-7.9 -4.9,-17.6 -0.7,-25.5Z" fill="#1c9a48"/><path d="M0,0L0,-26.9" stroke="#04240f" stroke-width=".8" fill="none"/></g>
<g transform="translate(-62.4,14.4) rotate(292.6)"><path d="M0,0 C6.8,-4.9 6.8,-15.2 0,-24.5 C-6.8,-15.2 -6.8,-4.9 0,0Z" fill="#0c8a3a" stroke="#04240f" stroke-width="1.25"/><path d="M0.8,-2.5 C5.4,-6.9 4.9,-15.2 0.7,-22.1Z" fill="#2fae58"/><path d="M-0.8,-2.5 C-5.4,-6.9 -4.9,-15.2 -0.7,-22.1Z" fill="#1c9a48"/><path d="M0,0L0,-23.3" stroke="#04240f" stroke-width=".8" fill="none"/></g>
<g transform="translate(-62.4,14.4) rotate(389.4)"><path d="M0,0 C6.8,-5.0 6.8,-15.6 0,-25.1 C-6.8,-15.6 -6.8,-5.0 0,0Z" fill="#0c8a3a" stroke="#04240f" stroke-width="1.25"/><path d="M0.8,-2.5 C5.4,-7.0 4.9,-15.6 0.7,-22.6Z" fill="#2fae58"/><path d="M-0.8,-2.5 C-5.4,-7.0 -4.9,-15.6 -0.7,-22.6Z" fill="#1c9a48"/><path d="M0,0L0,-23.8" stroke="#04240f" stroke-width=".8" fill="none"/></g>
<g transform="translate(-62.4,14.4) rotate(319.8)"><path d="M0,0 C6.8,-5.0 6.8,-15.5 0,-24.9 C-6.8,-15.5 -6.8,-5.0 0,0Z" fill="#0c8a3a" stroke="#04240f" stroke-width="1.25"/><path d="M0.8,-2.5 C5.4,-7.0 4.9,-15.5 0.7,-22.4Z" fill="#2fae58"/><path d="M-0.8,-2.5 C-5.4,-7.0 -4.9,-15.5 -0.7,-22.4Z" fill="#1c9a48"/><path d="M0,0L0,-23.7" stroke="#04240f" stroke-width=".8" fill="none"/></g>
<g transform="translate(-62.4,14.4) rotate(366.7)"><path d="M0,0 C6.8,-5.2 6.8,-16.2 0,-26.2 C-6.8,-16.2 -6.8,-5.2 0,0Z" fill="#0c8a3a" stroke="#04240f" stroke-width="1.25"/><path d="M0.8,-2.6 C5.4,-7.3 4.9,-16.2 0.7,-23.6Z" fill="#2fae58"/><path d="M-0.8,-2.6 C-5.4,-7.3 -4.9,-16.2 -0.7,-23.6Z" fill="#1c9a48"/><path d="M0,0L0,-24.9" stroke="#04240f" stroke-width=".8" fill="none"/></g>
<g transform="translate(-62.4,14.4) rotate(343.9)"><path d="M0,0 C6.8,-5.5 6.8,-17.2 0,-27.7 C-6.8,-17.2 -6.8,-5.5 0,0Z" fill="#0c8a3a" stroke="#04240f" stroke-width="1.25"/><path d="M0.8,-2.8 C5.4,-7.8 4.9,-17.2 0.7,-25.0Z" fill="#2fae58"/><path d="M-0.8,-2.8 C-5.4,-7.8 -4.9,-17.2 -0.7,-25.0Z" fill="#1c9a48"/><path d="M0,0L0,-26.4" stroke="#04240f" stroke-width=".8" fill="none"/></g>
<g transform="translate(-63.8,-5.6) rotate(315.4)"><path d="M0,0 C6.8,-5.0 6.8,-15.4 0,-24.8 C-6.8,-15.4 -6.8,-5.0 0,0Z" fill="#0c8a3a" stroke="#04240f" stroke-width="1.25"/><path d="M0.8,-2.5 C5.4,-7.0 4.9,-15.4 0.7,-22.4Z" fill="#2fae58"/><path d="M-0.8,-2.5 C-5.4,-7.0 -4.9,-15.4 -0.7,-22.4Z" fill="#1c9a48"/><path d="M0,0L0,-23.6" stroke="#04240f" stroke-width=".8" fill="none"/></g>
<g transform="translate(-63.8,-5.6) rotate(400.3)"><path d="M0,0 C6.8,-5.0 6.8,-15.6 0,-25.1 C-6.8,-15.6 -6.8,-5.0 0,0Z" fill="#0c8a3a" stroke="#04240f" stroke-width="1.25"/><path d="M0.8,-2.5 C5.4,-7.0 4.9,-15.6 0.7,-22.6Z" fill="#2fae58"/><path d="M-0.8,-2.5 C-5.4,-7.0 -4.9,-15.6 -0.7,-22.6Z" fill="#1c9a48"/><path d="M0,0L0,-23.8" stroke="#04240f" stroke-width=".8" fill="none"/></g>
<g transform="translate(-63.8,-5.6) rotate(335.7)"><path d="M0,0 C6.8,-5.0 6.8,-15.4 0,-24.9 C-6.8,-15.4 -6.8,-5.0 0,0Z" fill="#0c8a3a" stroke="#04240f" stroke-width="1.25"/><path d="M0.8,-2.5 C5.4,-7.0 4.9,-15.4 0.7,-22.4Z" fill="#2fae58"/><path d="M-0.8,-2.5 C-5.4,-7.0 -4.9,-15.4 -0.7,-22.4Z" fill="#1c9a48"/><path d="M0,0L0,-23.7" stroke="#04240f" stroke-width=".8" fill="none"/></g>
<g transform="translate(-63.8,-5.6) rotate(385.4)"><path d="M0,0 C6.8,-5.3 6.8,-16.5 0,-26.6 C-6.8,-16.5 -6.8,-5.3 0,0Z" fill="#0c8a3a" stroke="#04240f" stroke-width="1.25"/><path d="M0.8,-2.7 C5.4,-7.5 4.9,-16.5 0.7,-24.0Z" fill="#2fae58"/><path d="M-0.8,-2.7 C-5.4,-7.5 -4.9,-16.5 -0.7,-24.0Z" fill="#1c9a48"/><path d="M0,0L0,-25.3" stroke="#04240f" stroke-width=".8" fill="none"/></g>
<g transform="translate(-63.8,-5.6) rotate(363.7)"><path d="M0,0 C6.8,-5.7 6.8,-17.5 0,-28.3 C-6.8,-17.5 -6.8,-5.7 0,0Z" fill="#0c8a3a" stroke="#04240f" stroke-width="1.25"/><path d="M0.8,-2.8 C5.4,-7.9 4.9,-17.5 0.7,-25.4Z" fill="#2fae58"/><path d="M-0.8,-2.8 C-5.4,-7.9 -4.9,-17.5 -0.7,-25.4Z" fill="#1c9a48"/><path d="M0,0L0,-26.9" stroke="#04240f" stroke-width=".8" fill="none"/></g>
<g transform="translate(-58.9,-25.0) rotate(331.4)"><path d="M0,0 C6.8,-4.6 6.8,-14.4 0,-23.2 C-6.8,-14.4 -6.8,-4.6 0,0Z" fill="#0c8a3a" stroke="#04240f" stroke-width="1.25"/><path d="M0.8,-2.3 C5.4,-6.5 4.9,-14.4 0.7,-20.9Z" fill="#2fae58"/><path d="M-0.8,-2.3 C-5.4,-6.5 -4.9,-14.4 -0.7,-20.9Z" fill="#1c9a48"/><path d="M0,0L0,-22.0" stroke="#04240f" stroke-width=".8" fill="none"/></g>
<g transform="translate(-58.9,-25.0) rotate(420.5)"><path d="M0,0 C6.8,-4.6 6.8,-14.1 0,-22.8 C-6.8,-14.1 -6.8,-4.6 0,0Z" fill="#0c8a3a" stroke="#04240f" stroke-width="1.25"/><path d="M0.8,-2.3 C5.4,-6.4 4.9,-14.1 0.7,-20.5Z" fill="#2fae58"/><path d="M-0.8,-2.3 C-5.4,-6.4 -4.9,-14.1 -0.7,-20.5Z" fill="#1c9a48"/><path d="M0,0L0,-21.7" stroke="#04240f" stroke-width=".8" fill="none"/></g>
<g transform="translate(-58.9,-25.0) rotate(353.6)"><path d="M0,0 C6.8,-4.9 6.8,-15.1 0,-24.3 C-6.8,-15.1 -6.8,-4.9 0,0Z" fill="#0c8a3a" stroke="#04240f" stroke-width="1.25"/><path d="M0.8,-2.4 C5.4,-6.8 4.9,-15.1 0.7,-21.9Z" fill="#2fae58"/><path d="M-0.8,-2.4 C-5.4,-6.8 -4.9,-15.1 -0.7,-21.9Z" fill="#1c9a48"/><path d="M0,0L0,-23.1" stroke="#04240f" stroke-width=".8" fill="none"/></g>
<g transform="translate(-58.9,-25.0) rotate(404.0)"><path d="M0,0 C6.8,-5.4 6.8,-16.7 0,-26.9 C-6.8,-16.7 -6.8,-5.4 0,0Z" fill="#0c8a3a" stroke="#04240f" stroke-width="1.25"/><path d="M0.8,-2.7 C5.4,-7.5 4.9,-16.7 0.7,-24.2Z" fill="#2fae58"/><path d="M-0.8,-2.7 C-5.4,-7.5 -4.9,-16.7 -0.7,-24.2Z" fill="#1c9a48"/><path d="M0,0L0,-25.5" stroke="#04240f" stroke-width=".8" fill="none"/></g>
<g transform="translate(-58.9,-25.0) rotate(380.3)"><path d="M0,0 C6.8,-5.1 6.8,-15.9 0,-25.6 C-6.8,-15.9 -6.8,-5.1 0,0Z" fill="#0c8a3a" stroke="#04240f" stroke-width="1.25"/><path d="M0.8,-2.6 C5.4,-7.2 4.9,-15.9 0.7,-23.1Z" fill="#2fae58"/><path d="M-0.8,-2.6 C-5.4,-7.2 -4.9,-15.9 -0.7,-23.1Z" fill="#1c9a48"/><path d="M0,0L0,-24.4" stroke="#04240f" stroke-width=".8" fill="none"/></g>
<g transform="translate(-45.3,-39.4) rotate(352.9)"><path d="M0,0 C6.4,-4.4 6.4,-13.7 0,-22.1 C-6.4,-13.7 -6.4,-4.4 0,0Z" fill="#0c8a3a" stroke="#04240f" stroke-width="1.25"/><path d="M0.8,-2.2 C5.1,-6.2 4.6,-13.7 0.6,-19.9Z" fill="#2fae58"/><path d="M-0.8,-2.2 C-5.1,-6.2 -4.6,-13.7 -0.6,-19.9Z" fill="#1c9a48"/><path d="M0,0L0,-21.0" stroke="#04240f" stroke-width=".8" fill="none"/></g>
<g transform="translate(-45.3,-39.4) rotate(439.2)"><path d="M0,0 C6.4,-4.2 6.4,-13.2 0,-21.2 C-6.4,-13.2 -6.4,-4.2 0,0Z" fill="#0c8a3a" stroke="#04240f" stroke-width="1.25"/><path d="M0.8,-2.1 C5.1,-5.9 4.6,-13.2 0.6,-19.1Z" fill="#2fae58"/><path d="M-0.8,-2.1 C-5.1,-5.9 -4.6,-13.2 -0.6,-19.1Z" fill="#1c9a48"/><path d="M0,0L0,-20.2" stroke="#04240f" stroke-width=".8" fill="none"/></g>
<g transform="translate(-45.3,-39.4) rotate(375.8)"><path d="M0,0 C6.4,-4.9 6.4,-15.2 0,-24.5 C-6.4,-15.2 -6.4,-4.9 0,0Z" fill="#0c8a3a" stroke="#04240f" stroke-width="1.25"/><path d="M0.8,-2.4 C5.1,-6.9 4.6,-15.2 0.6,-22.0Z" fill="#2fae58"/><path d="M-0.8,-2.4 C-5.1,-6.9 -4.6,-15.2 -0.6,-22.0Z" fill="#1c9a48"/><path d="M0,0L0,-23.3" stroke="#04240f" stroke-width=".8" fill="none"/></g>
<g transform="translate(-45.3,-39.4) rotate(420.1)"><path d="M0,0 C6.4,-4.7 6.4,-14.4 0,-23.3 C-6.4,-14.4 -6.4,-4.7 0,0Z" fill="#0c8a3a" stroke="#04240f" stroke-width="1.25"/><path d="M0.8,-2.3 C5.1,-6.5 4.6,-14.4 0.6,-20.9Z" fill="#2fae58"/><path d="M-0.8,-2.3 C-5.1,-6.5 -4.6,-14.4 -0.6,-20.9Z" fill="#1c9a48"/><path d="M0,0L0,-22.1" stroke="#04240f" stroke-width=".8" fill="none"/></g>
<g transform="translate(-45.3,-39.4) rotate(397.4)"><path d="M0,0 C6.4,-5.2 6.4,-16.3 0,-26.2 C-6.4,-16.3 -6.4,-5.2 0,0Z" fill="#0c8a3a" stroke="#04240f" stroke-width="1.25"/><path d="M0.8,-2.6 C5.1,-7.3 4.6,-16.3 0.6,-23.6Z" fill="#2fae58"/><path d="M-0.8,-2.6 C-5.1,-7.3 -4.6,-16.3 -0.6,-23.6Z" fill="#1c9a48"/><path d="M0,0L0,-24.9" stroke="#04240f" stroke-width=".8" fill="none"/></g>
<g transform="translate(-33.6,-49.7) rotate(360.3)"><path d="M0,0 C6.4,-4.4 6.4,-13.6 0,-22.0 C-6.4,-13.6 -6.4,-4.4 0,0Z" fill="#0c8a3a" stroke="#04240f" stroke-width="1.25"/><path d="M0.8,-2.2 C5.1,-6.2 4.6,-13.6 0.6,-19.8Z" fill="#2fae58"/><path d="M-0.8,-2.2 C-5.1,-6.2 -4.6,-13.6 -0.6,-19.8Z" fill="#1c9a48"/><path d="M0,0L0,-20.9" stroke="#04240f" stroke-width=".8" fill="none"/></g>
<g transform="translate(-33.6,-49.7) rotate(457.7)"><path d="M0,0 C6.4,-4.2 6.4,-13.0 0,-20.9 C-6.4,-13.0 -6.4,-4.2 0,0Z" fill="#0c8a3a" stroke="#04240f" stroke-width="1.25"/><path d="M0.8,-2.1 C5.1,-5.8 4.6,-13.0 0.6,-18.8Z" fill="#2fae58"/><path d="M-0.8,-2.1 C-5.1,-5.8 -4.6,-13.0 -0.6,-18.8Z" fill="#1c9a48"/><path d="M0,0L0,-19.8" stroke="#04240f" stroke-width=".8" fill="none"/></g>
<g transform="translate(-33.6,-49.7) rotate(391.9)"><path d="M0,0 C6.4,-5.0 6.4,-15.4 0,-24.8 C-6.4,-15.4 -6.4,-5.0 0,0Z" fill="#0c8a3a" stroke="#04240f" stroke-width="1.25"/><path d="M0.8,-2.5 C5.1,-7.0 4.6,-15.4 0.6,-22.4Z" fill="#2fae58"/><path d="M-0.8,-2.5 C-5.1,-7.0 -4.6,-15.4 -0.6,-22.4Z" fill="#1c9a48"/><path d="M0,0L0,-23.6" stroke="#04240f" stroke-width=".8" fill="none"/></g>
<g transform="translate(-33.6,-49.7) rotate(436.5)"><path d="M0,0 C6.4,-4.9 6.4,-15.1 0,-24.4 C-6.4,-15.1 -6.4,-4.9 0,0Z" fill="#0c8a3a" stroke="#04240f" stroke-width="1.25"/><path d="M0.8,-2.4 C5.1,-6.8 4.6,-15.1 0.6,-21.9Z" fill="#2fae58"/><path d="M-0.8,-2.4 C-5.1,-6.8 -4.6,-15.1 -0.6,-21.9Z" fill="#1c9a48"/><path d="M0,0L0,-23.1" stroke="#04240f" stroke-width=".8" fill="none"/></g>
<g transform="translate(-33.6,-49.7) rotate(412.9)"><path d="M0,0 C6.4,-5.0 6.4,-15.4 0,-24.8 C-6.4,-15.4 -6.4,-5.0 0,0Z" fill="#0c8a3a" stroke="#04240f" stroke-width="1.25"/><path d="M0.8,-2.5 C5.1,-6.9 4.6,-15.4 0.6,-22.3Z" fill="#2fae58"/><path d="M-0.8,-2.5 C-5.1,-6.9 -4.6,-15.4 -0.6,-22.3Z" fill="#1c9a48"/><path d="M0,0L0,-23.6" stroke="#04240f" stroke-width=".8" fill="none"/></g>
<g transform="translate(-20.5,-56.4) rotate(375.2)"><path d="M0,0 C6.4,-4.6 6.4,-14.3 0,-23.0 C-6.4,-14.3 -6.4,-4.6 0,0Z" fill="#0c8a3a" stroke="#04240f" stroke-width="1.25"/><path d="M0.8,-2.3 C5.1,-6.4 4.6,-14.3 0.6,-20.7Z" fill="#2fae58"/><path d="M-0.8,-2.3 C-5.1,-6.4 -4.6,-14.3 -0.6,-20.7Z" fill="#1c9a48"/><path d="M0,0L0,-21.9" stroke="#04240f" stroke-width=".8" fill="none"/></g>
<g transform="translate(-20.5,-56.4) rotate(467.4)"><path d="M0,0 C6.4,-4.4 6.4,-13.6 0,-21.9 C-6.4,-13.6 -6.4,-4.4 0,0Z" fill="#0c8a3a" stroke="#04240f" stroke-width="1.25"/><path d="M0.8,-2.2 C5.1,-6.1 4.6,-13.6 0.6,-19.7Z" fill="#2fae58"/><path d="M-0.8,-2.2 C-5.1,-6.1 -4.6,-13.6 -0.6,-19.7Z" fill="#1c9a48"/><path d="M0,0L0,-20.8" stroke="#04240f" stroke-width=".8" fill="none"/></g>
<g transform="translate(-20.5,-56.4) rotate(408.0)"><path d="M0,0 C6.4,-4.9 6.4,-15.2 0,-24.6 C-6.4,-15.2 -6.4,-4.9 0,0Z" fill="#0c8a3a" stroke="#04240f" stroke-width="1.25"/><path d="M0.8,-2.5 C5.1,-6.9 4.6,-15.2 0.6,-22.1Z" fill="#2fae58"/><path d="M-0.8,-2.5 C-5.1,-6.9 -4.6,-15.2 -0.6,-22.1Z" fill="#1c9a48"/><path d="M0,0L0,-23.3" stroke="#04240f" stroke-width=".8" fill="none"/></g>
<g transform="translate(-20.5,-56.4) rotate(453.3)"><path d="M0,0 C6.4,-4.7 6.4,-14.5 0,-23.4 C-6.4,-14.5 -6.4,-4.7 0,0Z" fill="#0c8a3a" stroke="#04240f" stroke-width="1.25"/><path d="M0.8,-2.3 C5.1,-6.5 4.6,-14.5 0.6,-21.0Z" fill="#2fae58"/><path d="M-0.8,-2.3 C-5.1,-6.5 -4.6,-14.5 -0.6,-21.0Z" fill="#1c9a48"/><path d="M0,0L0,-22.2" stroke="#04240f" stroke-width=".8" fill="none"/></g>
<g transform="translate(-20.5,-56.4) rotate(429.9)"><path d="M0,0 C6.4,-5.1 6.4,-15.9 0,-25.7 C-6.4,-15.9 -6.4,-5.1 0,0Z" fill="#0c8a3a" stroke="#04240f" stroke-width="1.25"/><path d="M0.8,-2.6 C5.1,-7.2 4.6,-15.9 0.6,-23.1Z" fill="#2fae58"/><path d="M-0.8,-2.6 C-5.1,-7.2 -4.6,-15.9 -0.6,-23.1Z" fill="#1c9a48"/><path d="M0,0L0,-24.4" stroke="#04240f" stroke-width=".8" fill="none"/></g>
<circle cx="-63.1" cy="19.3" r="1.9" fill="#c4161c" stroke="#5a0a0a" stroke-width=".6"/>
<circle cx="-60.5" cy="21.1" r="1.9" fill="#c4161c" stroke="#5a0a0a" stroke-width=".6"/>
<circle cx="-64.3" cy="22.3" r="1.9" fill="#c4161c" stroke="#5a0a0a" stroke-width=".6"/>
<circle cx="-60.9" cy="17.1" r="1.9" fill="#c4161c" stroke="#5a0a0a" stroke-width=".6"/>
<circle cx="-66.5" cy="-8.2" r="1.9" fill="#c4161c" stroke="#5a0a0a" stroke-width=".6"/>
<circle cx="-63.9" cy="-6.4" r="1.9" fill="#c4161c" stroke="#5a0a0a" stroke-width=".6"/>
<circle cx="-67.7" cy="-5.2" r="1.9" fill="#c4161c" stroke="#5a0a0a" stroke-width=".6"/>
<circle cx="-64.3" cy="-10.4" r="1.9" fill="#c4161c" stroke="#5a0a0a" stroke-width=".6"/>
<circle cx="-48.2" cy="-46.5" r="1.9" fill="#c4161c" stroke="#5a0a0a" stroke-width=".6"/>
<circle cx="-45.6" cy="-44.7" r="1.9" fill="#c4161c" stroke="#5a0a0a" stroke-width=".6"/>
<circle cx="-49.4" cy="-43.5" r="1.9" fill="#c4161c" stroke="#5a0a0a" stroke-width=".6"/>
<circle cx="-46.0" cy="-48.7" r="1.9" fill="#c4161c" stroke="#5a0a0a" stroke-width=".6"/>
<circle cx="-53.6" cy="45.0" r="1.9" fill="#c4161c" stroke="#5a0a0a" stroke-width=".6"/>
<circle cx="-51.0" cy="46.8" r="1.9" fill="#c4161c" stroke="#5a0a0a" stroke-width=".6"/>
<circle cx="-54.8" cy="48.0" r="1.9" fill="#c4161c" stroke="#5a0a0a" stroke-width=".6"/>
<circle cx="-51.4" cy="42.8" r="1.9" fill="#c4161c" stroke="#5a0a0a" stroke-width=".6"/>
<g transform="translate(10.3,73.3) rotate(42.8)"><path d="M0,0 C5.8,-4.5 5.8,-13.8 0,-22.3 C-5.8,-13.8 -5.8,-4.5 0,0Z" fill="#0c8a3a" stroke="#04240f" stroke-width="1.25"/><path d="M0.7,-2.2 C4.6,-6.2 4.2,-13.8 0.6,-20.0Z" fill="#2fae58"/><path d="M-0.7,-2.2 C-4.6,-6.2 -4.2,-13.8 -0.6,-20.0Z" fill="#1c9a48"/><path d="M0,0L0,-21.1" stroke="#04240f" stroke-width=".8" fill="none"/></g>
<g transform="translate(10.3,73.3) rotate(133.2)"><path d="M0,0 C5.8,-4.4 5.8,-13.5 0,-21.8 C-5.8,-13.5 -5.8,-4.4 0,0Z" fill="#0c8a3a" stroke="#04240f" stroke-width="1.25"/><path d="M0.7,-2.2 C4.6,-6.1 4.2,-13.5 0.6,-19.6Z" fill="#2fae58"/><path d="M-0.7,-2.2 C-4.6,-6.1 -4.2,-13.5 -0.6,-19.6Z" fill="#1c9a48"/><path d="M0,0L0,-20.7" stroke="#04240f" stroke-width=".8" fill="none"/></g>
<g transform="translate(10.3,73.3) rotate(61.5)"><path d="M0,0 C5.8,-5.2 5.8,-16.1 0,-25.9 C-5.8,-16.1 -5.8,-5.2 0,0Z" fill="#0c8a3a" stroke="#04240f" stroke-width="1.25"/><path d="M0.7,-2.6 C4.6,-7.3 4.2,-16.1 0.6,-23.3Z" fill="#2fae58"/><path d="M-0.7,-2.6 C-4.6,-7.3 -4.2,-16.1 -0.6,-23.3Z" fill="#1c9a48"/><path d="M0,0L0,-24.6" stroke="#04240f" stroke-width=".8" fill="none"/></g>
<g transform="translate(10.3,73.3) rotate(111.7)"><path d="M0,0 C5.8,-5.0 5.8,-15.4 0,-24.8 C-5.8,-15.4 -5.8,-5.0 0,0Z" fill="#0c8a3a" stroke="#04240f" stroke-width="1.25"/><path d="M0.7,-2.5 C4.6,-6.9 4.2,-15.4 0.6,-22.3Z" fill="#2fae58"/><path d="M-0.7,-2.5 C-4.6,-6.9 -4.2,-15.4 -0.6,-22.3Z" fill="#1c9a48"/><path d="M0,0L0,-23.6" stroke="#04240f" stroke-width=".8" fill="none"/></g>
<g transform="translate(10.3,73.3) rotate(82.0)"><path d="M0,0 C5.8,-5.1 5.8,-15.8 0,-25.5 C-5.8,-15.8 -5.8,-5.1 0,0Z" fill="#0c8a3a" stroke="#04240f" stroke-width="1.25"/><path d="M0.7,-2.6 C4.6,-7.1 4.2,-15.8 0.6,-23.0Z" fill="#2fae58"/><path d="M-0.7,-2.6 C-4.6,-7.1 -4.2,-15.8 -0.6,-23.0Z" fill="#1c9a48"/><path d="M0,0L0,-24.2" stroke="#04240f" stroke-width=".8" fill="none"/></g>
<g transform="translate(29.3,65.8) rotate(23.7)"><path d="M0,0 C5.8,-4.4 5.8,-13.8 0,-22.2 C-5.8,-13.8 -5.8,-4.4 0,0Z" fill="#0c8a3a" stroke="#04240f" stroke-width="1.25"/><path d="M0.7,-2.2 C4.6,-6.2 4.2,-13.8 0.6,-20.0Z" fill="#2fae58"/><path d="M-0.7,-2.2 C-4.6,-6.2 -4.2,-13.8 -0.6,-20.0Z" fill="#1c9a48"/><path d="M0,0L0,-21.1" stroke="#04240f" stroke-width=".8" fill="none"/></g>
<g transform="translate(29.3,65.8) rotate(120.3)"><path d="M0,0 C5.8,-4.8 5.8,-14.9 0,-24.0 C-5.8,-14.9 -5.8,-4.8 0,0Z" fill="#0c8a3a" stroke="#04240f" stroke-width="1.25"/><path d="M0.7,-2.4 C4.6,-6.7 4.2,-14.9 0.6,-21.6Z" fill="#2fae58"/><path d="M-0.7,-2.4 C-4.6,-6.7 -4.2,-14.9 -0.6,-21.6Z" fill="#1c9a48"/><path d="M0,0L0,-22.8" stroke="#04240f" stroke-width=".8" fill="none"/></g>
<g transform="translate(29.3,65.8) rotate(45.4)"><path d="M0,0 C5.8,-5.1 5.8,-15.7 0,-25.3 C-5.8,-15.7 -5.8,-5.1 0,0Z" fill="#0c8a3a" stroke="#04240f" stroke-width="1.25"/><path d="M0.7,-2.5 C4.6,-7.1 4.2,-15.7 0.6,-22.8Z" fill="#2fae58"/><path d="M-0.7,-2.5 C-4.6,-7.1 -4.2,-15.7 -0.6,-22.8Z" fill="#1c9a48"/><path d="M0,0L0,-24.0" stroke="#04240f" stroke-width=".8" fill="none"/></g>
<g transform="translate(29.3,65.8) rotate(94.2)"><path d="M0,0 C5.8,-5.0 5.8,-15.5 0,-25.0 C-5.8,-15.5 -5.8,-5.0 0,0Z" fill="#0c8a3a" stroke="#04240f" stroke-width="1.25"/><path d="M0.7,-2.5 C4.6,-7.0 4.2,-15.5 0.6,-22.5Z" fill="#2fae58"/><path d="M-0.7,-2.5 C-4.6,-7.0 -4.2,-15.5 -0.6,-22.5Z" fill="#1c9a48"/><path d="M0,0L0,-23.8" stroke="#04240f" stroke-width=".8" fill="none"/></g>
<g transform="translate(29.3,65.8) rotate(67.3)"><path d="M0,0 C5.8,-5.4 5.8,-16.6 0,-26.8 C-5.8,-16.6 -5.8,-5.4 0,0Z" fill="#0c8a3a" stroke="#04240f" stroke-width="1.25"/><path d="M0.7,-2.7 C4.6,-7.5 4.2,-16.6 0.6,-24.1Z" fill="#2fae58"/><path d="M-0.7,-2.7 C-4.6,-7.5 -4.2,-16.6 -0.6,-24.1Z" fill="#1c9a48"/><path d="M0,0L0,-25.4" stroke="#04240f" stroke-width=".8" fill="none"/></g>
<g transform="translate(41.9,53.6) rotate(11.9)"><path d="M0,0 C5.8,-4.7 5.8,-14.6 0,-23.5 C-5.8,-14.6 -5.8,-4.7 0,0Z" fill="#0c8a3a" stroke="#04240f" stroke-width="1.25"/><path d="M0.7,-2.3 C4.6,-6.6 4.2,-14.6 0.6,-21.1Z" fill="#2fae58"/><path d="M-0.7,-2.3 C-4.6,-6.6 -4.2,-14.6 -0.6,-21.1Z" fill="#1c9a48"/><path d="M0,0L0,-22.3" stroke="#04240f" stroke-width=".8" fill="none"/></g>
<g transform="translate(41.9,53.6) rotate(102.2)"><path d="M0,0 C5.8,-4.6 5.8,-14.2 0,-22.8 C-5.8,-14.2 -5.8,-4.6 0,0Z" fill="#0c8a3a" stroke="#04240f" stroke-width="1.25"/><path d="M0.7,-2.3 C4.6,-6.4 4.2,-14.2 0.6,-20.6Z" fill="#2fae58"/><path d="M-0.7,-2.3 C-4.6,-6.4 -4.2,-14.2 -0.6,-20.6Z" fill="#1c9a48"/><path d="M0,0L0,-21.7" stroke="#04240f" stroke-width=".8" fill="none"/></g>
<g transform="translate(41.9,53.6) rotate(34.7)"><path d="M0,0 C5.8,-5.0 5.8,-15.5 0,-25.0 C-5.8,-15.5 -5.8,-5.0 0,0Z" fill="#0c8a3a" stroke="#04240f" stroke-width="1.25"/><path d="M0.7,-2.5 C4.6,-7.0 4.2,-15.5 0.6,-22.5Z" fill="#2fae58"/><path d="M-0.7,-2.5 C-4.6,-7.0 -4.2,-15.5 -0.6,-22.5Z" fill="#1c9a48"/><path d="M0,0L0,-23.8" stroke="#04240f" stroke-width=".8" fill="none"/></g>
<g transform="translate(41.9,53.6) rotate(76.4)"><path d="M0,0 C5.8,-5.2 5.8,-16.0 0,-25.8 C-5.8,-16.0 -5.8,-5.2 0,0Z" fill="#0c8a3a" stroke="#04240f" stroke-width="1.25"/><path d="M0.7,-2.6 C4.6,-7.2 4.2,-16.0 0.6,-23.2Z" fill="#2fae58"/><path d="M-0.7,-2.6 C-4.6,-7.2 -4.2,-16.0 -0.6,-23.2Z" fill="#1c9a48"/><path d="M0,0L0,-24.5" stroke="#04240f" stroke-width=".8" fill="none"/></g>
<g transform="translate(41.9,53.6) rotate(53.2)"><path d="M0,0 C5.8,-5.2 5.8,-16.3 0,-26.2 C-5.8,-16.3 -5.8,-5.2 0,0Z" fill="#0c8a3a" stroke="#04240f" stroke-width="1.25"/><path d="M0.7,-2.6 C4.6,-7.3 4.2,-16.3 0.6,-23.6Z" fill="#2fae58"/><path d="M-0.7,-2.6 C-4.6,-7.3 -4.2,-16.3 -0.6,-23.6Z" fill="#1c9a48"/><path d="M0,0L0,-24.9" stroke="#04240f" stroke-width=".8" fill="none"/></g>
<g transform="translate(6.5,61.7) rotate(50.1)"><path d="M0,0 C5.8,-5.1 5.8,-15.9 0,-25.7 C-5.8,-15.9 -5.8,-5.1 0,0Z" fill="#0c8a3a" stroke="#04240f" stroke-width="1.25"/><path d="M0.7,-2.6 C4.6,-7.2 4.2,-15.9 0.6,-23.1Z" fill="#2fae58"/><path d="M-0.7,-2.6 C-4.6,-7.2 -4.2,-15.9 -0.6,-23.1Z" fill="#1c9a48"/><path d="M0,0L0,-24.4" stroke="#04240f" stroke-width=".8" fill="none"/></g>
<g transform="translate(6.5,61.7) rotate(122.0)"><path d="M0,0 C5.8,-5.2 5.8,-16.1 0,-26.0 C-5.8,-16.1 -5.8,-5.2 0,0Z" fill="#0c8a3a" stroke="#04240f" stroke-width="1.25"/><path d="M0.7,-2.6 C4.6,-7.3 4.2,-16.1 0.6,-23.4Z" fill="#2fae58"/><path d="M-0.7,-2.6 C-4.6,-7.3 -4.2,-16.1 -0.6,-23.4Z" fill="#1c9a48"/><path d="M0,0L0,-24.7" stroke="#04240f" stroke-width=".8" fill="none"/></g>
<g transform="translate(6.5,61.7) rotate(68.7)"><path d="M0,0 C5.8,-5.6 5.8,-17.5 0,-28.2 C-5.8,-17.5 -5.8,-5.6 0,0Z" fill="#0c8a3a" stroke="#04240f" stroke-width="1.25"/><path d="M0.7,-2.8 C4.6,-7.9 4.2,-17.5 0.6,-25.4Z" fill="#2fae58"/><path d="M-0.7,-2.8 C-4.6,-7.9 -4.2,-17.5 -0.6,-25.4Z" fill="#1c9a48"/><path d="M0,0L0,-26.8" stroke="#04240f" stroke-width=".8" fill="none"/></g>
<g transform="translate(6.5,61.7) rotate(105.2)"><path d="M0,0 C5.8,-5.6 5.8,-17.5 0,-28.2 C-5.8,-17.5 -5.8,-5.6 0,0Z" fill="#0c8a3a" stroke="#04240f" stroke-width="1.25"/><path d="M0.7,-2.8 C4.6,-7.9 4.2,-17.5 0.6,-25.3Z" fill="#2fae58"/><path d="M-0.7,-2.8 C-4.6,-7.9 -4.2,-17.5 -0.6,-25.3Z" fill="#1c9a48"/><path d="M0,0L0,-26.7" stroke="#04240f" stroke-width=".8" fill="none"/></g>
<g transform="translate(6.5,61.7) rotate(82.8)"><path d="M0,0 C5.8,-5.9 5.8,-18.2 0,-29.4 C-5.8,-18.2 -5.8,-5.9 0,0Z" fill="#0c8a3a" stroke="#04240f" stroke-width="1.25"/><path d="M0.7,-2.9 C4.6,-8.2 4.2,-18.2 0.6,-26.5Z" fill="#2fae58"/><path d="M-0.7,-2.9 C-4.6,-8.2 -4.2,-18.2 -0.6,-26.5Z" fill="#1c9a48"/><path d="M0,0L0,-28.0" stroke="#04240f" stroke-width=".8" fill="none"/></g>
<g transform="translate(22.2,57.9) rotate(40.9)"><path d="M0,0 C5.8,-5.3 5.8,-16.4 0,-26.5 C-5.8,-16.4 -5.8,-5.3 0,0Z" fill="#0c8a3a" stroke="#04240f" stroke-width="1.25"/><path d="M0.7,-2.7 C4.6,-7.4 4.2,-16.4 0.6,-23.9Z" fill="#2fae58"/><path d="M-0.7,-2.7 C-4.6,-7.4 -4.2,-16.4 -0.6,-23.9Z" fill="#1c9a48"/><path d="M0,0L0,-25.2" stroke="#04240f" stroke-width=".8" fill="none"/></g>
<g transform="translate(22.2,57.9) rotate(107.8)"><path d="M0,0 C5.8,-5.3 5.8,-16.5 0,-26.5 C-5.8,-16.5 -5.8,-5.3 0,0Z" fill="#0c8a3a" stroke="#04240f" stroke-width="1.25"/><path d="M0.7,-2.7 C4.6,-7.4 4.2,-16.5 0.6,-23.9Z" fill="#2fae58"/><path d="M-0.7,-2.7 C-4.6,-7.4 -4.2,-16.5 -0.6,-23.9Z" fill="#1c9a48"/><path d="M0,0L0,-25.2" stroke="#04240f" stroke-width=".8" fill="none"/></g>
<g transform="translate(22.2,57.9) rotate(57.0)"><path d="M0,0 C5.8,-5.6 5.8,-17.3 0,-27.8 C-5.8,-17.3 -5.8,-5.6 0,0Z" fill="#0c8a3a" stroke="#04240f" stroke-width="1.25"/><path d="M0.7,-2.8 C4.6,-7.8 4.2,-17.3 0.6,-25.0Z" fill="#2fae58"/><path d="M-0.7,-2.8 C-4.6,-7.8 -4.2,-17.3 -0.6,-25.0Z" fill="#1c9a48"/><path d="M0,0L0,-26.4" stroke="#04240f" stroke-width=".8" fill="none"/></g>
<g transform="translate(22.2,57.9) rotate(92.8)"><path d="M0,0 C5.8,-5.7 5.8,-17.8 0,-28.6 C-5.8,-17.8 -5.8,-5.7 0,0Z" fill="#0c8a3a" stroke="#04240f" stroke-width="1.25"/><path d="M0.7,-2.9 C4.6,-8.0 4.2,-17.8 0.6,-25.8Z" fill="#2fae58"/><path d="M-0.7,-2.9 C-4.6,-8.0 -4.2,-17.8 -0.6,-25.8Z" fill="#1c9a48"/><path d="M0,0L0,-27.2" stroke="#04240f" stroke-width=".8" fill="none"/></g>
<g transform="translate(22.2,57.9) rotate(69.1)"><path d="M0,0 C5.8,-5.8 5.8,-18.0 0,-29.1 C-5.8,-18.0 -5.8,-5.8 0,0Z" fill="#0c8a3a" stroke="#04240f" stroke-width="1.25"/><path d="M0.7,-2.9 C4.6,-8.1 4.2,-18.0 0.6,-26.2Z" fill="#2fae58"/><path d="M-0.7,-2.9 C-4.6,-8.1 -4.2,-18.0 -0.6,-26.2Z" fill="#1c9a48"/><path d="M0,0L0,-27.6" stroke="#04240f" stroke-width=".8" fill="none"/></g>
<g transform="translate(37.3,53.2) rotate(22.3)"><path d="M0,0 C5.8,-5.3 5.8,-16.4 0,-26.5 C-5.8,-16.4 -5.8,-5.3 0,0Z" fill="#0c8a3a" stroke="#04240f" stroke-width="1.25"/><path d="M0.7,-2.7 C4.6,-7.4 4.2,-16.4 0.6,-23.9Z" fill="#2fae58"/><path d="M-0.7,-2.7 C-4.6,-7.4 -4.2,-16.4 -0.6,-23.9Z" fill="#1c9a48"/><path d="M0,0L0,-25.2" stroke="#04240f" stroke-width=".8" fill="none"/></g>
<g transform="translate(37.3,53.2) rotate(98.5)"><path d="M0,0 C5.8,-5.1 5.8,-15.8 0,-25.5 C-5.8,-15.8 -5.8,-5.1 0,0Z" fill="#0c8a3a" stroke="#04240f" stroke-width="1.25"/><path d="M0.7,-2.5 C4.6,-7.1 4.2,-15.8 0.6,-22.9Z" fill="#2fae58"/><path d="M-0.7,-2.5 C-4.6,-7.1 -4.2,-15.8 -0.6,-22.9Z" fill="#1c9a48"/><path d="M0,0L0,-24.2" stroke="#04240f" stroke-width=".8" fill="none"/></g>
<g transform="translate(37.3,53.2) rotate(41.5)"><path d="M0,0 C5.8,-5.6 5.8,-17.3 0,-27.9 C-5.8,-17.3 -5.8,-5.6 0,0Z" fill="#0c8a3a" stroke="#04240f" stroke-width="1.25"/><path d="M0.7,-2.8 C4.6,-7.8 4.2,-17.3 0.6,-25.1Z" fill="#2fae58"/><path d="M-0.7,-2.8 C-4.6,-7.8 -4.2,-17.3 -0.6,-25.1Z" fill="#1c9a48"/><path d="M0,0L0,-26.5" stroke="#04240f" stroke-width=".8" fill="none"/></g>
<g transform="translate(37.3,53.2) rotate(76.8)"><path d="M0,0 C5.8,-5.3 5.8,-16.3 0,-26.3 C-5.8,-16.3 -5.8,-5.3 0,0Z" fill="#0c8a3a" stroke="#04240f" stroke-width="1.25"/><path d="M0.7,-2.6 C4.6,-7.4 4.2,-16.3 0.6,-23.6Z" fill="#2fae58"/><path d="M-0.7,-2.6 C-4.6,-7.4 -4.2,-16.3 -0.6,-23.6Z" fill="#1c9a48"/><path d="M0,0L0,-25.0" stroke="#04240f" stroke-width=".8" fill="none"/></g>
<g transform="translate(37.3,53.2) rotate(57.2)"><path d="M0,0 C5.8,-5.8 5.8,-18.1 0,-29.2 C-5.8,-18.1 -5.8,-5.8 0,0Z" fill="#0c8a3a" stroke="#04240f" stroke-width="1.25"/><path d="M0.7,-2.9 C4.6,-8.2 4.2,-18.1 0.6,-26.3Z" fill="#2fae58"/><path d="M-0.7,-2.9 C-4.6,-8.2 -4.2,-18.1 -0.6,-26.3Z" fill="#1c9a48"/><path d="M0,0L0,-27.8" stroke="#04240f" stroke-width=".8" fill="none"/></g>
<g transform="translate(49.1,42.6) rotate(12.3)"><path d="M0,0 C5.8,-5.1 5.8,-15.7 0,-25.3 C-5.8,-15.7 -5.8,-5.1 0,0Z" fill="#0c8a3a" stroke="#04240f" stroke-width="1.25"/><path d="M0.7,-2.5 C4.6,-7.1 4.2,-15.7 0.6,-22.8Z" fill="#2fae58"/><path d="M-0.7,-2.5 C-4.6,-7.1 -4.2,-15.7 -0.6,-22.8Z" fill="#1c9a48"/><path d="M0,0L0,-24.0" stroke="#04240f" stroke-width=".8" fill="none"/></g>
<g transform="translate(49.1,42.6) rotate(82.0)"><path d="M0,0 C5.8,-5.3 5.8,-16.3 0,-26.3 C-5.8,-16.3 -5.8,-5.3 0,0Z" fill="#0c8a3a" stroke="#04240f" stroke-width="1.25"/><path d="M0.7,-2.6 C4.6,-7.4 4.2,-16.3 0.6,-23.7Z" fill="#2fae58"/><path d="M-0.7,-2.6 C-4.6,-7.4 -4.2,-16.3 -0.6,-23.7Z" fill="#1c9a48"/><path d="M0,0L0,-25.0" stroke="#04240f" stroke-width=".8" fill="none"/></g>
<g transform="translate(49.1,42.6) rotate(27.1)"><path d="M0,0 C5.8,-5.6 5.8,-17.3 0,-27.9 C-5.8,-17.3 -5.8,-5.6 0,0Z" fill="#0c8a3a" stroke="#04240f" stroke-width="1.25"/><path d="M0.7,-2.8 C4.6,-7.8 4.2,-17.3 0.6,-25.1Z" fill="#2fae58"/><path d="M-0.7,-2.8 C-4.6,-7.8 -4.2,-17.3 -0.6,-25.1Z" fill="#1c9a48"/><path d="M0,0L0,-26.5" stroke="#04240f" stroke-width=".8" fill="none"/></g>
<g transform="translate(49.1,42.6) rotate(57.2)"><path d="M0,0 C5.8,-5.2 5.8,-16.3 0,-26.2 C-5.8,-16.3 -5.8,-5.2 0,0Z" fill="#0c8a3a" stroke="#04240f" stroke-width="1.25"/><path d="M0.7,-2.6 C4.6,-7.3 4.2,-16.3 0.6,-23.6Z" fill="#2fae58"/><path d="M-0.7,-2.6 C-4.6,-7.3 -4.2,-16.3 -0.6,-23.6Z" fill="#1c9a48"/><path d="M0,0L0,-24.9" stroke="#04240f" stroke-width=".8" fill="none"/></g>
<g transform="translate(49.1,42.6) rotate(40.5)"><path d="M0,0 C5.8,-5.9 5.8,-18.3 0,-29.5 C-5.8,-18.3 -5.8,-5.9 0,0Z" fill="#0c8a3a" stroke="#04240f" stroke-width="1.25"/><path d="M0.7,-2.9 C4.6,-8.2 4.2,-18.3 0.6,-26.5Z" fill="#2fae58"/><path d="M-0.7,-2.9 C-4.6,-8.2 -4.2,-18.3 -0.6,-26.5Z" fill="#1c9a48"/><path d="M0,0L0,-28.0" stroke="#04240f" stroke-width=".8" fill="none"/></g>
<g transform="translate(57.9,29.5) rotate(-5.2)"><path d="M0,0 C5.8,-5.2 5.8,-16.2 0,-26.1 C-5.8,-16.2 -5.8,-5.2 0,0Z" fill="#0c8a3a" stroke="#04240f" stroke-width="1.25"/><path d="M0.7,-2.6 C4.6,-7.3 4.2,-16.2 0.6,-23.5Z" fill="#2fae58"/><path d="M-0.7,-2.6 C-4.6,-7.3 -4.2,-16.2 -0.6,-23.5Z" fill="#1c9a48"/><path d="M0,0L0,-24.8" stroke="#04240f" stroke-width=".8" fill="none"/></g>
<g transform="translate(57.9,29.5) rotate(68.0)"><path d="M0,0 C5.8,-4.8 5.8,-15.0 0,-24.1 C-5.8,-15.0 -5.8,-4.8 0,0Z" fill="#0c8a3a" stroke="#04240f" stroke-width="1.25"/><path d="M0.7,-2.4 C4.6,-6.8 4.2,-15.0 0.6,-21.7Z" fill="#2fae58"/><path d="M-0.7,-2.4 C-4.6,-6.8 -4.2,-15.0 -0.6,-21.7Z" fill="#1c9a48"/><path d="M0,0L0,-22.9" stroke="#04240f" stroke-width=".8" fill="none"/></g>
<g transform="translate(57.9,29.5) rotate(11.8)"><path d="M0,0 C5.8,-5.3 5.8,-16.4 0,-26.4 C-5.8,-16.4 -5.8,-5.3 0,0Z" fill="#0c8a3a" stroke="#04240f" stroke-width="1.25"/><path d="M0.7,-2.6 C4.6,-7.4 4.2,-16.4 0.6,-23.8Z" fill="#2fae58"/><path d="M-0.7,-2.6 C-4.6,-7.4 -4.2,-16.4 -0.6,-23.8Z" fill="#1c9a48"/><path d="M0,0L0,-25.1" stroke="#04240f" stroke-width=".8" fill="none"/></g>
<g transform="translate(57.9,29.5) rotate(43.4)"><path d="M0,0 C5.8,-5.2 5.8,-16.2 0,-26.2 C-5.8,-16.2 -5.8,-5.2 0,0Z" fill="#0c8a3a" stroke="#04240f" stroke-width="1.25"/><path d="M0.7,-2.6 C4.6,-7.3 4.2,-16.2 0.6,-23.5Z" fill="#2fae58"/><path d="M-0.7,-2.6 C-4.6,-7.3 -4.2,-16.2 -0.6,-23.5Z" fill="#1c9a48"/><path d="M0,0L0,-24.9" stroke="#04240f" stroke-width=".8" fill="none"/></g>
<g transform="translate(57.9,29.5) rotate(25.5)"><path d="M0,0 C5.8,-5.6 5.8,-17.4 0,-28.0 C-5.8,-17.4 -5.8,-5.6 0,0Z" fill="#0c8a3a" stroke="#04240f" stroke-width="1.25"/><path d="M0.7,-2.8 C4.6,-7.9 4.2,-17.4 0.6,-25.2Z" fill="#2fae58"/><path d="M-0.7,-2.8 C-4.6,-7.9 -4.2,-17.4 -0.6,-25.2Z" fill="#1c9a48"/><path d="M0,0L0,-26.6" stroke="#04240f" stroke-width=".8" fill="none"/></g>
<g transform="translate(63.3,14.6) rotate(-19.5)"><path d="M0,0 C5.8,-4.8 5.8,-15.0 0,-24.1 C-5.8,-15.0 -5.8,-4.8 0,0Z" fill="#0c8a3a" stroke="#04240f" stroke-width="1.25"/><path d="M0.7,-2.4 C4.6,-6.8 4.2,-15.0 0.6,-21.7Z" fill="#2fae58"/><path d="M-0.7,-2.4 C-4.6,-6.8 -4.2,-15.0 -0.6,-21.7Z" fill="#1c9a48"/><path d="M0,0L0,-22.9" stroke="#04240f" stroke-width=".8" fill="none"/></g>
<g transform="translate(63.3,14.6) rotate(52.7)"><path d="M0,0 C5.8,-5.0 5.8,-15.6 0,-25.2 C-5.8,-15.6 -5.8,-5.0 0,0Z" fill="#0c8a3a" stroke="#04240f" stroke-width="1.25"/><path d="M0.7,-2.5 C4.6,-7.0 4.2,-15.6 0.6,-22.6Z" fill="#2fae58"/><path d="M-0.7,-2.5 C-4.6,-7.0 -4.2,-15.6 -0.6,-22.6Z" fill="#1c9a48"/><path d="M0,0L0,-23.9" stroke="#04240f" stroke-width=".8" fill="none"/></g>
<g transform="translate(63.3,14.6) rotate(-1.1)"><path d="M0,0 C5.8,-5.5 5.8,-17.1 0,-27.5 C-5.8,-17.1 -5.8,-5.5 0,0Z" fill="#0c8a3a" stroke="#04240f" stroke-width="1.25"/><path d="M0.7,-2.8 C4.6,-7.7 4.2,-17.1 0.6,-24.8Z" fill="#2fae58"/><path d="M-0.7,-2.8 C-4.6,-7.7 -4.2,-17.1 -0.6,-24.8Z" fill="#1c9a48"/><path d="M0,0L0,-26.2" stroke="#04240f" stroke-width=".8" fill="none"/></g>
<g transform="translate(63.3,14.6) rotate(30.9)"><path d="M0,0 C5.8,-5.7 5.8,-17.7 0,-28.5 C-5.8,-17.7 -5.8,-5.7 0,0Z" fill="#0c8a3a" stroke="#04240f" stroke-width="1.25"/><path d="M0.7,-2.8 C4.6,-8.0 4.2,-17.7 0.6,-25.6Z" fill="#2fae58"/><path d="M-0.7,-2.8 C-4.6,-8.0 -4.2,-17.7 -0.6,-25.6Z" fill="#1c9a48"/><path d="M0,0L0,-27.0" stroke="#04240f" stroke-width=".8" fill="none"/></g>
<g transform="translate(63.3,14.6) rotate(9.0)"><path d="M0,0 C5.8,-5.7 5.8,-17.8 0,-28.7 C-5.8,-17.8 -5.8,-5.7 0,0Z" fill="#0c8a3a" stroke="#04240f" stroke-width="1.25"/><path d="M0.7,-2.9 C4.6,-8.0 4.2,-17.8 0.6,-25.8Z" fill="#2fae58"/><path d="M-0.7,-2.9 C-4.6,-8.0 -4.2,-17.8 -0.6,-25.8Z" fill="#1c9a48"/><path d="M0,0L0,-27.3" stroke="#04240f" stroke-width=".8" fill="none"/></g>
<g transform="translate(65.0,-1.1) rotate(-32.8)"><path d="M0,0 C5.8,-5.1 5.8,-15.7 0,-25.3 C-5.8,-15.7 -5.8,-5.1 0,0Z" fill="#0c8a3a" stroke="#04240f" stroke-width="1.25"/><path d="M0.7,-2.5 C4.6,-7.1 4.2,-15.7 0.6,-22.7Z" fill="#2fae58"/><path d="M-0.7,-2.5 C-4.6,-7.1 -4.2,-15.7 -0.6,-22.7Z" fill="#1c9a48"/><path d="M0,0L0,-24.0" stroke="#04240f" stroke-width=".8" fill="none"/></g>
<g transform="translate(65.0,-1.1) rotate(35.9)"><path d="M0,0 C5.8,-5.3 5.8,-16.4 0,-26.5 C-5.8,-16.4 -5.8,-5.3 0,0Z" fill="#0c8a3a" stroke="#04240f" stroke-width="1.25"/><path d="M0.7,-2.7 C4.6,-7.4 4.2,-16.4 0.6,-23.9Z" fill="#2fae58"/><path d="M-0.7,-2.7 C-4.6,-7.4 -4.2,-16.4 -0.6,-23.9Z" fill="#1c9a48"/><path d="M0,0L0,-25.2" stroke="#04240f" stroke-width=".8" fill="none"/></g>
<g transform="translate(65.0,-1.1) rotate(-17.0)"><path d="M0,0 C5.8,-5.2 5.8,-16.0 0,-25.9 C-5.8,-16.0 -5.8,-5.2 0,0Z" fill="#0c8a3a" stroke="#04240f" stroke-width="1.25"/><path d="M0.7,-2.6 C4.6,-7.2 4.2,-16.0 0.6,-23.3Z" fill="#2fae58"/><path d="M-0.7,-2.6 C-4.6,-7.2 -4.2,-16.0 -0.6,-23.3Z" fill="#1c9a48"/><path d="M0,0L0,-24.6" stroke="#04240f" stroke-width=".8" fill="none"/></g>
<g transform="translate(65.0,-1.1) rotate(19.9)"><path d="M0,0 C5.8,-5.2 5.8,-16.1 0,-26.0 C-5.8,-16.1 -5.8,-5.2 0,0Z" fill="#0c8a3a" stroke="#04240f" stroke-width="1.25"/><path d="M0.7,-2.6 C4.6,-7.3 4.2,-16.1 0.6,-23.4Z" fill="#2fae58"/><path d="M-0.7,-2.6 C-4.6,-7.3 -4.2,-16.1 -0.6,-23.4Z" fill="#1c9a48"/><path d="M0,0L0,-24.7" stroke="#04240f" stroke-width=".8" fill="none"/></g>
<g transform="translate(65.0,-1.1) rotate(-0.6)"><path d="M0,0 C5.8,-5.7 5.8,-17.7 0,-28.5 C-5.8,-17.7 -5.8,-5.7 0,0Z" fill="#0c8a3a" stroke="#04240f" stroke-width="1.25"/><path d="M0.7,-2.9 C4.6,-8.0 4.2,-17.7 0.6,-25.7Z" fill="#2fae58"/><path d="M-0.7,-2.9 C-4.6,-8.0 -4.2,-17.7 -0.6,-25.7Z" fill="#1c9a48"/><path d="M0,0L0,-27.1" stroke="#04240f" stroke-width=".8" fill="none"/></g>
<g transform="translate(62.8,-16.8) rotate(-44.4)"><path d="M0,0 C5.8,-5.4 5.8,-16.7 0,-26.9 C-5.8,-16.7 -5.8,-5.4 0,0Z" fill="#0c8a3a" stroke="#04240f" stroke-width="1.25"/><path d="M0.7,-2.7 C4.6,-7.5 4.2,-16.7 0.6,-24.2Z" fill="#2fae58"/><path d="M-0.7,-2.7 C-4.6,-7.5 -4.2,-16.7 -0.6,-24.2Z" fill="#1c9a48"/><path d="M0,0L0,-25.6" stroke="#04240f" stroke-width=".8" fill="none"/></g>
<g transform="translate(62.8,-16.8) rotate(27.5)"><path d="M0,0 C5.8,-5.1 5.8,-15.7 0,-25.3 C-5.8,-15.7 -5.8,-5.1 0,0Z" fill="#0c8a3a" stroke="#04240f" stroke-width="1.25"/><path d="M0.7,-2.5 C4.6,-7.1 4.2,-15.7 0.6,-22.7Z" fill="#2fae58"/><path d="M-0.7,-2.5 C-4.6,-7.1 -4.2,-15.7 -0.6,-22.7Z" fill="#1c9a48"/><path d="M0,0L0,-24.0" stroke="#04240f" stroke-width=".8" fill="none"/></g>
<g transform="translate(62.8,-16.8) rotate(-27.5)"><path d="M0,0 C5.8,-5.5 5.8,-17.2 0,-27.7 C-5.8,-17.2 -5.8,-5.5 0,0Z" fill="#0c8a3a" stroke="#04240f" stroke-width="1.25"/><path d="M0.7,-2.8 C4.6,-7.8 4.2,-17.2 0.6,-24.9Z" fill="#2fae58"/><path d="M-0.7,-2.8 C-4.6,-7.8 -4.2,-17.2 -0.6,-24.9Z" fill="#1c9a48"/><path d="M0,0L0,-26.3" stroke="#04240f" stroke-width=".8" fill="none"/></g>
<g transform="translate(62.8,-16.8) rotate(4.0)"><path d="M0,0 C5.8,-5.2 5.8,-16.2 0,-26.2 C-5.8,-16.2 -5.8,-5.2 0,0Z" fill="#0c8a3a" stroke="#04240f" stroke-width="1.25"/><path d="M0.7,-2.6 C4.6,-7.3 4.2,-16.2 0.6,-23.6Z" fill="#2fae58"/><path d="M-0.7,-2.6 C-4.6,-7.3 -4.2,-16.2 -0.6,-23.6Z" fill="#1c9a48"/><path d="M0,0L0,-24.9" stroke="#04240f" stroke-width=".8" fill="none"/></g>
<g transform="translate(62.8,-16.8) rotate(-14.2)"><path d="M0,0 C5.8,-5.8 5.8,-18.1 0,-29.2 C-5.8,-18.1 -5.8,-5.8 0,0Z" fill="#0c8a3a" stroke="#04240f" stroke-width="1.25"/><path d="M0.7,-2.9 C4.6,-8.2 4.2,-18.1 0.6,-26.3Z" fill="#2fae58"/><path d="M-0.7,-2.9 C-4.6,-8.2 -4.2,-18.1 -0.6,-26.3Z" fill="#1c9a48"/><path d="M0,0L0,-27.7" stroke="#04240f" stroke-width=".8" fill="none"/></g>
<g transform="translate(54.7,-29.1) rotate(-54.3)"><path d="M0,0 C5.8,-5.4 5.8,-16.7 0,-26.9 C-5.8,-16.7 -5.8,-5.4 0,0Z" fill="#0c8a3a" stroke="#04240f" stroke-width="1.25"/><path d="M0.7,-2.7 C4.6,-7.5 4.2,-16.7 0.6,-24.2Z" fill="#2fae58"/><path d="M-0.7,-2.7 C-4.6,-7.5 -4.2,-16.7 -0.6,-24.2Z" fill="#1c9a48"/><path d="M0,0L0,-25.6" stroke="#04240f" stroke-width=".8" fill="none"/></g>
<g transform="translate(54.7,-29.1) rotate(12.9)"><path d="M0,0 C5.8,-5.0 5.8,-15.5 0,-25.1 C-5.8,-15.5 -5.8,-5.0 0,0Z" fill="#0c8a3a" stroke="#04240f" stroke-width="1.25"/><path d="M0.7,-2.5 C4.6,-7.0 4.2,-15.5 0.6,-22.6Z" fill="#2fae58"/><path d="M-0.7,-2.5 C-4.6,-7.0 -4.2,-15.5 -0.6,-22.6Z" fill="#1c9a48"/><path d="M0,0L0,-23.8" stroke="#04240f" stroke-width=".8" fill="none"/></g>
<g transform="translate(54.7,-29.1) rotate(-39.9)"><path d="M0,0 C5.8,-5.2 5.8,-16.0 0,-25.8 C-5.8,-16.0 -5.8,-5.2 0,0Z" fill="#0c8a3a" stroke="#04240f" stroke-width="1.25"/><path d="M0.7,-2.6 C4.6,-7.2 4.2,-16.0 0.6,-23.2Z" fill="#2fae58"/><path d="M-0.7,-2.6 C-4.6,-7.2 -4.2,-16.0 -0.6,-23.2Z" fill="#1c9a48"/><path d="M0,0L0,-24.5" stroke="#04240f" stroke-width=".8" fill="none"/></g>
<g transform="translate(54.7,-29.1) rotate(-11.1)"><path d="M0,0 C5.8,-5.5 5.8,-17.0 0,-27.5 C-5.8,-17.0 -5.8,-5.5 0,0Z" fill="#0c8a3a" stroke="#04240f" stroke-width="1.25"/><path d="M0.7,-2.7 C4.6,-7.7 4.2,-17.0 0.6,-24.7Z" fill="#2fae58"/><path d="M-0.7,-2.7 C-4.6,-7.7 -4.2,-17.0 -0.6,-24.7Z" fill="#1c9a48"/><path d="M0,0L0,-26.1" stroke="#04240f" stroke-width=".8" fill="none"/></g>
<g transform="translate(54.7,-29.1) rotate(-27.1)"><path d="M0,0 C5.8,-5.6 5.8,-17.3 0,-27.9 C-5.8,-17.3 -5.8,-5.6 0,0Z" fill="#0c8a3a" stroke="#04240f" stroke-width="1.25"/><path d="M0.7,-2.8 C4.6,-7.8 4.2,-17.3 0.6,-25.1Z" fill="#2fae58"/><path d="M-0.7,-2.8 C-4.6,-7.8 -4.2,-17.3 -0.6,-25.1Z" fill="#1c9a48"/><path d="M0,0L0,-26.5" stroke="#04240f" stroke-width=".8" fill="none"/></g>
<g transform="translate(47.5,-39.9) rotate(-69.0)"><path d="M0,0 C5.8,-5.3 5.8,-16.6 0,-26.7 C-5.8,-16.6 -5.8,-5.3 0,0Z" fill="#0c8a3a" stroke="#04240f" stroke-width="1.25"/><path d="M0.7,-2.7 C4.6,-7.5 4.2,-16.6 0.6,-24.0Z" fill="#2fae58"/><path d="M-0.7,-2.7 C-4.6,-7.5 -4.2,-16.6 -0.6,-24.0Z" fill="#1c9a48"/><path d="M0,0L0,-25.4" stroke="#04240f" stroke-width=".8" fill="none"/></g>
<g transform="translate(47.5,-39.9) rotate(-1.0)"><path d="M0,0 C5.8,-5.1 5.8,-15.7 0,-25.3 C-5.8,-15.7 -5.8,-5.1 0,0Z" fill="#0c8a3a" stroke="#04240f" stroke-width="1.25"/><path d="M0.7,-2.5 C4.6,-7.1 4.2,-15.7 0.6,-22.8Z" fill="#2fae58"/><path d="M-0.7,-2.5 C-4.6,-7.1 -4.2,-15.7 -0.6,-22.8Z" fill="#1c9a48"/><path d="M0,0L0,-24.0" stroke="#04240f" stroke-width=".8" fill="none"/></g>
<g transform="translate(47.5,-39.9) rotate(-57.2)"><path d="M0,0 C5.8,-5.3 5.8,-16.5 0,-26.6 C-5.8,-16.5 -5.8,-5.3 0,0Z" fill="#0c8a3a" stroke="#04240f" stroke-width="1.25"/><path d="M0.7,-2.7 C4.6,-7.5 4.2,-16.5 0.6,-24.0Z" fill="#2fae58"/><path d="M-0.7,-2.7 C-4.6,-7.5 -4.2,-16.5 -0.6,-24.0Z" fill="#1c9a48"/><path d="M0,0L0,-25.3" stroke="#04240f" stroke-width=".8" fill="none"/></g>
<g transform="translate(47.5,-39.9) rotate(-16.2)"><path d="M0,0 C5.8,-5.4 5.8,-16.7 0,-26.9 C-5.8,-16.7 -5.8,-5.4 0,0Z" fill="#0c8a3a" stroke="#04240f" stroke-width="1.25"/><path d="M0.7,-2.7 C4.6,-7.5 4.2,-16.7 0.6,-24.2Z" fill="#2fae58"/><path d="M-0.7,-2.7 C-4.6,-7.5 -4.2,-16.7 -0.6,-24.2Z" fill="#1c9a48"/><path d="M0,0L0,-25.6" stroke="#04240f" stroke-width=".8" fill="none"/></g>
<g transform="translate(47.5,-39.9) rotate(-36.3)"><path d="M0,0 C5.8,-6.0 5.8,-18.7 0,-30.2 C-5.8,-18.7 -5.8,-6.0 0,0Z" fill="#0c8a3a" stroke="#04240f" stroke-width="1.25"/><path d="M0.7,-3.0 C4.6,-8.5 4.2,-18.7 0.6,-27.2Z" fill="#2fae58"/><path d="M-0.7,-3.0 C-4.6,-8.5 -4.2,-18.7 -0.6,-27.2Z" fill="#1c9a48"/><path d="M0,0L0,-28.7" stroke="#04240f" stroke-width=".8" fill="none"/></g>
<g transform="translate(39.9,-47.5) rotate(-79.2)"><path d="M0,0 C5.8,-5.0 5.8,-15.4 0,-24.8 C-5.8,-15.4 -5.8,-5.0 0,0Z" fill="#0c8a3a" stroke="#04240f" stroke-width="1.25"/><path d="M0.7,-2.5 C4.6,-6.9 4.2,-15.4 0.6,-22.3Z" fill="#2fae58"/><path d="M-0.7,-2.5 C-4.6,-6.9 -4.2,-15.4 -0.6,-22.3Z" fill="#1c9a48"/><path d="M0,0L0,-23.6" stroke="#04240f" stroke-width=".8" fill="none"/></g>
<g transform="translate(39.9,-47.5) rotate(-6.2)"><path d="M0,0 C5.8,-5.1 5.8,-15.8 0,-25.5 C-5.8,-15.8 -5.8,-5.1 0,0Z" fill="#0c8a3a" stroke="#04240f" stroke-width="1.25"/><path d="M0.7,-2.6 C4.6,-7.1 4.2,-15.8 0.6,-23.0Z" fill="#2fae58"/><path d="M-0.7,-2.6 C-4.6,-7.1 -4.2,-15.8 -0.6,-23.0Z" fill="#1c9a48"/><path d="M0,0L0,-24.2" stroke="#04240f" stroke-width=".8" fill="none"/></g>
<g transform="translate(39.9,-47.5) rotate(-65.7)"><path d="M0,0 C5.8,-5.3 5.8,-16.6 0,-26.7 C-5.8,-16.6 -5.8,-5.3 0,0Z" fill="#0c8a3a" stroke="#04240f" stroke-width="1.25"/><path d="M0.7,-2.7 C4.6,-7.5 4.2,-16.6 0.6,-24.0Z" fill="#2fae58"/><path d="M-0.7,-2.7 C-4.6,-7.5 -4.2,-16.6 -0.6,-24.0Z" fill="#1c9a48"/><path d="M0,0L0,-25.4" stroke="#04240f" stroke-width=".8" fill="none"/></g>
<g transform="translate(39.9,-47.5) rotate(-26.1)"><path d="M0,0 C5.8,-5.4 5.8,-16.9 0,-27.2 C-5.8,-16.9 -5.8,-5.4 0,0Z" fill="#0c8a3a" stroke="#04240f" stroke-width="1.25"/><path d="M0.7,-2.7 C4.6,-7.6 4.2,-16.9 0.6,-24.5Z" fill="#2fae58"/><path d="M-0.7,-2.7 C-4.6,-7.6 -4.2,-16.9 -0.6,-24.5Z" fill="#1c9a48"/><path d="M0,0L0,-25.9" stroke="#04240f" stroke-width=".8" fill="none"/></g>
<g transform="translate(39.9,-47.5) rotate(-51.7)"><path d="M0,0 C5.8,-5.8 5.8,-17.9 0,-28.9 C-5.8,-17.9 -5.8,-5.8 0,0Z" fill="#0c8a3a" stroke="#04240f" stroke-width="1.25"/><path d="M0.7,-2.9 C4.6,-8.1 4.2,-17.9 0.6,-26.0Z" fill="#2fae58"/><path d="M-0.7,-2.9 C-4.6,-8.1 -4.2,-17.9 -0.6,-26.0Z" fill="#1c9a48"/><path d="M0,0L0,-27.5" stroke="#04240f" stroke-width=".8" fill="none"/></g>
<path d="M12.6,-70.8 Q27.1,-65.3 37.7,-53.8" stroke="#0c8a3a" stroke-width="1.8" fill="none"/>
<path d="M12.6,-77.2 L13.7,-74.3 L16.6,-73.2 L14.1,-71.3 L13.9,-68.2 L11.3,-69.9 L8.3,-69.2 L9.2,-72.1 L7.6,-74.8 L10.7,-74.8Z" fill="#4a1522" stroke="#2a0a12" stroke-width="1" stroke-linejoin="round"/>
<circle cx="11.8" cy="-72.5" r="1.7" fill="#c9566a" stroke="#7d2a3a" stroke-width=".6"/>
<path d="M24.1,-77.7 L25.2,-74.8 L28.1,-73.7 L25.6,-71.8 L25.4,-68.7 L22.9,-70.4 L19.9,-69.7 L20.7,-72.6 L19.1,-75.3 L22.2,-75.3Z" fill="#4a1522" stroke="#2a0a12" stroke-width="1" stroke-linejoin="round"/>
<circle cx="23.3" cy="-73.0" r="1.7" fill="#c9566a" stroke="#7d2a3a" stroke-width=".6"/>
<path d="M32.7,-70.8 L33.7,-67.9 L36.6,-66.8 L34.1,-64.9 L33.9,-61.8 L31.4,-63.5 L28.4,-62.8 L29.2,-65.7 L27.6,-68.4 L30.7,-68.4Z" fill="#4a1522" stroke="#2a0a12" stroke-width="1" stroke-linejoin="round"/>
<circle cx="31.8" cy="-66.1" r="1.7" fill="#c9566a" stroke="#7d2a3a" stroke-width=".6"/>
<circle cx="14.4" cy="-65.1" r="1.7" fill="#b8323e" stroke="#3a0a10" stroke-width=".6"/>
<circle cx="18.9" cy="-60.1" r="1.7" fill="#b8323e" stroke="#3a0a10" stroke-width=".6"/>
<circle cx="20.7" cy="-52.8" r="1.7" fill="#b8323e" stroke="#3a0a10" stroke-width=".6"/>
<path d="M0.0,-83.8 L26.1,-35.9 L79.7,-25.9 L42.2,13.7 L49.3,67.8 L0.0,44.4 L-49.3,67.8 L-42.2,13.7 L-79.7,-25.9 L-26.1,-35.9Z" fill="#fff200"/>
<path d="M0.0,-80.6 L25.1,-34.6 L76.7,-24.9 L40.6,13.2 L47.4,65.2 L0.0,42.7 L-47.4,65.2 L-40.6,13.2 L-76.7,-24.9 L-25.1,-34.6Z" fill="#d9261c"/>
<path d="M0.0,0.0 L-22.4,-30.9 L0.0,-72.0Z" fill="#0a9540"/>
<path d="M0.0,0.0 L0.0,-72.0 L22.4,-30.9Z" fill="#fff200"/>
<path d="M0.0,0.0 L22.4,-30.9 L68.5,-22.2Z" fill="#0a9540"/>
<path d="M0.0,0.0 L68.5,-22.2 L36.3,11.8Z" fill="#fff200"/>
<path d="M0.0,0.0 L36.3,11.8 L42.3,58.2Z" fill="#0a9540"/>
<path d="M0.0,0.0 L42.3,58.2 L0.0,38.2Z" fill="#fff200"/>
<path d="M0.0,0.0 L0.0,38.2 L-42.3,58.2Z" fill="#0a9540"/>
<path d="M0.0,0.0 L-42.3,58.2 L-36.3,11.8Z" fill="#fff200"/>
<path d="M0.0,0.0 L-36.3,11.8 L-68.5,-22.2Z" fill="#0a9540"/>
<path d="M0.0,0.0 L-68.5,-22.2 L-22.4,-30.9Z" fill="#fff200"/>
<circle r="44.1" fill="#1f9b3a"/>
<circle r="43.7" fill="#fff200"/>
<circle r="42.0" fill="#0f93dc"/>
<circle r="30.6" fill="none" stroke="#3aa64a" stroke-width="2.8"/>
<circle r="30.6" fill="none" stroke="#eef02a" stroke-width="1.8"/>
<path d="M0.0,-39.8 L0.9,-38.1 L2.8,-37.8 L1.5,-36.4 L1.7,-34.6 L0.0,-35.4 L-1.7,-34.6 L-1.5,-36.4 L-2.8,-37.8 L-0.9,-38.1Z" fill="#fff"/>
<path d="M9.2,-38.7 L9.7,-36.9 L11.4,-36.1 L9.8,-35.1 L9.6,-33.2 L8.2,-34.4 L6.3,-34.0 L7.0,-35.8 L6.0,-37.4 L7.9,-37.3Z" fill="#fff"/>
<path d="M17.9,-35.6 L17.9,-33.7 L19.4,-32.5 L17.7,-31.9 L17.0,-30.1 L15.9,-31.6 L14.0,-31.6 L15.0,-33.2 L14.5,-35.0 L16.3,-34.5Z" fill="#fff"/>
<path d="M25.6,-30.5 L25.2,-28.6 L26.4,-27.2 L24.5,-27.0 L23.5,-25.4 L22.7,-27.1 L20.9,-27.6 L22.3,-28.8 L22.2,-30.7 L23.8,-29.8Z" fill="#fff"/>
<path d="M31.9,-23.8 L31.1,-22.1 L32.0,-20.4 L30.1,-20.6 L28.7,-19.3 L28.4,-21.1 L26.7,-22.0 L28.3,-22.9 L28.7,-24.8 L30.1,-23.5Z" fill="#fff"/>
<path d="M36.5,-15.8 L35.4,-14.3 L35.8,-12.4 L34.0,-13.1 L32.4,-12.1 L32.5,-14.0 L31.1,-15.3 L32.9,-15.8 L33.6,-17.5 L34.7,-15.9Z" fill="#fff"/>
<path d="M39.2,-6.9 L37.7,-5.7 L37.7,-3.8 L36.1,-4.9 L34.3,-4.3 L34.8,-6.1 L33.7,-7.7 L35.6,-7.8 L36.7,-9.3 L37.4,-7.5Z" fill="#fff"/>
<path d="M39.7,2.3 L38.0,3.1 L37.6,5.0 L36.3,3.6 L34.4,3.7 L35.3,2.1 L34.6,0.3 L36.4,0.7 L37.9,-0.6 L38.1,1.3Z" fill="#fff"/>
<path d="M38.1,11.4 L36.3,11.8 L35.4,13.5 L34.5,11.8 L32.6,11.5 L33.9,10.1 L33.6,8.3 L35.3,9.0 L37.0,8.2 L36.8,10.1Z" fill="#fff"/>
<path d="M34.5,19.9 L32.6,19.9 L31.4,21.3 L30.8,19.5 L29.1,18.8 L30.6,17.7 L30.8,15.8 L32.3,16.9 L34.1,16.5 L33.5,18.3Z" fill="#fff"/>
<path d="M28.9,27.3 L27.1,26.8 L25.6,27.9 L25.5,26.1 L24.0,25.0 L25.7,24.3 L26.3,22.5 L27.5,23.9 L29.4,23.9 L28.4,25.5Z" fill="#fff"/>
<path d="M21.9,33.3 L20.2,32.4 L18.5,33.1 L18.8,31.2 L17.6,29.8 L19.4,29.5 L20.4,27.9 L21.2,29.6 L23.1,30.1 L21.7,31.4Z" fill="#fff"/>
<path d="M13.6,37.4 L12.2,36.2 L10.3,36.5 L11.1,34.7 L10.2,33.1 L12.1,33.2 L13.4,31.9 L13.8,33.7 L15.5,34.6 L13.9,35.5Z" fill="#fff"/>
<path d="M4.6,39.5 L3.5,38.0 L1.6,37.9 L2.8,36.3 L2.3,34.5 L4.1,35.1 L5.7,34.1 L5.7,36.0 L7.1,37.2 L5.3,37.8Z" fill="#fff"/>
<path d="M-4.6,39.5 L-5.3,37.8 L-7.1,37.2 L-5.7,36.0 L-5.7,34.1 L-4.1,35.1 L-2.3,34.5 L-2.8,36.3 L-1.6,37.9 L-3.5,38.0Z" fill="#fff"/>
<path d="M-13.6,37.4 L-13.9,35.5 L-15.5,34.6 L-13.8,33.7 L-13.4,31.9 L-12.1,33.2 L-10.2,33.1 L-11.1,34.7 L-10.3,36.5 L-12.2,36.2Z" fill="#fff"/>
<path d="M-21.9,33.3 L-21.7,31.4 L-23.1,30.1 L-21.2,29.6 L-20.4,27.9 L-19.4,29.5 L-17.6,29.8 L-18.8,31.2 L-18.5,33.1 L-20.2,32.4Z" fill="#fff"/>
<path d="M-28.9,27.3 L-28.4,25.5 L-29.4,23.9 L-27.5,23.9 L-26.3,22.5 L-25.7,24.3 L-24.0,25.0 L-25.5,26.1 L-25.6,27.9 L-27.1,26.8Z" fill="#fff"/>
<path d="M-34.5,19.9 L-33.5,18.3 L-34.1,16.5 L-32.3,16.9 L-30.8,15.8 L-30.6,17.7 L-29.1,18.8 L-30.8,19.5 L-31.4,21.3 L-32.6,19.9Z" fill="#fff"/>
<path d="M-38.1,11.4 L-36.8,10.1 L-37.0,8.2 L-35.3,9.0 L-33.6,8.3 L-33.9,10.1 L-32.6,11.5 L-34.5,11.8 L-35.4,13.5 L-36.3,11.8Z" fill="#fff"/>
<path d="M-39.7,2.3 L-38.1,1.3 L-37.9,-0.6 L-36.4,0.7 L-34.6,0.3 L-35.3,2.1 L-34.4,3.7 L-36.3,3.6 L-37.6,5.0 L-38.0,3.1Z" fill="#fff"/>
<path d="M-39.2,-6.9 L-37.4,-7.5 L-36.7,-9.3 L-35.6,-7.8 L-33.7,-7.7 L-34.8,-6.1 L-34.3,-4.3 L-36.1,-4.9 L-37.7,-3.8 L-37.7,-5.7Z" fill="#fff"/>
<path d="M-36.5,-15.8 L-34.7,-15.9 L-33.6,-17.5 L-32.9,-15.8 L-31.1,-15.3 L-32.5,-14.0 L-32.4,-12.1 L-34.0,-13.1 L-35.8,-12.4 L-35.4,-14.3Z" fill="#fff"/>
<path d="M-31.9,-23.8 L-30.1,-23.5 L-28.7,-24.8 L-28.3,-22.9 L-26.7,-22.0 L-28.4,-21.1 L-28.7,-19.3 L-30.1,-20.6 L-32.0,-20.4 L-31.1,-22.1Z" fill="#fff"/>
<path d="M-25.6,-30.5 L-23.8,-29.8 L-22.2,-30.7 L-22.3,-28.8 L-20.9,-27.6 L-22.7,-27.1 L-23.5,-25.4 L-24.5,-27.0 L-26.4,-27.2 L-25.2,-28.6Z" fill="#fff"/>
<path d="M-17.9,-35.6 L-16.3,-34.5 L-14.5,-35.0 L-15.0,-33.2 L-14.0,-31.6 L-15.9,-31.6 L-17.0,-30.1 L-17.7,-31.9 L-19.4,-32.5 L-17.9,-33.7Z" fill="#fff"/>
<path d="M-9.2,-38.7 L-7.9,-37.3 L-6.0,-37.4 L-7.0,-35.8 L-6.3,-34.0 L-8.2,-34.4 L-9.6,-33.2 L-9.8,-35.1 L-11.4,-36.1 L-9.7,-36.9Z" fill="#fff"/>
<path d="M-6.2,-25.5 L-5.0,-23.3 L-2.5,-22.8 L-4.2,-21.0 L-3.9,-18.4 L-6.2,-19.5 L-8.5,-18.4 L-8.2,-21.0 L-9.9,-22.8 L-7.4,-23.3Z" fill="#fff"/>
<path d="M19.1,-15.3 L20.0,-13.8 L21.6,-13.5 L20.5,-12.3 L20.7,-10.6 L19.1,-11.3 L17.6,-10.6 L17.8,-12.3 L16.7,-13.5 L18.3,-13.8Z" fill="#fff"/>
<path d="M-22.6,-5.7 L-21.8,-4.2 L-20.2,-3.9 L-21.3,-2.7 L-21.1,-1.0 L-22.6,-1.7 L-24.2,-1.0 L-23.9,-2.7 L-25.1,-3.9 L-23.4,-4.2Z" fill="#fff"/>
<path d="M-8.1,-1.0 L-7.5,0.1 L-6.2,0.4 L-7.1,1.3 L-6.9,2.6 L-8.1,2.1 L-9.3,2.6 L-9.1,1.3 L-10.0,0.4 L-8.7,0.1Z" fill="#fff"/>
<path d="M6.7,15.5 L8.2,18.2 L11.2,18.8 L9.1,21.1 L9.5,24.2 L6.7,22.8 L3.9,24.2 L4.3,21.1 L2.1,18.8 L5.2,18.2Z" fill="#fff"/>
</g>
<path d="M297.3,237 L297.3,214.5 Q297.3,210.4 301.6,210.4 Q305.9,210.4 305.9,214.5 L305.9,237Z" fill="#fff" stroke="#9aa0a6" stroke-width=".7"/>
<path d="M301.6,212 L301.6,236" stroke="#bcd7ea" stroke-width="1"/>
<path d="M283,232 Q280.5,221 289,218.6 Q295.6,218.6 294.6,226 Q291.5,224 289.4,227 Q288.4,230.4 290.4,234Z" fill="#0f93dc"/>
<path d="M320.20000000000005,232 Q322.70000000000005,221 314.20000000000005,218.6 Q307.6,218.6 308.6,226 Q311.70000000000005,224 313.80000000000007,227 Q314.80000000000007,230.4 312.80000000000007,234Z" fill="#0f93dc"/>
<path d="M281,249 L322,249 L322,254 L281,254Z" fill="#15130a"/>
<path d="M298,262 L298,274 L305.2,274 L305.2,262Z" fill="#fff" stroke="#a9aeb3" stroke-width=".7"/>
<rect x="298.1" y="274" width="7" height="4.8" rx="1.6" fill="#fff" stroke="#8f959b" stroke-width=".8"/>
<path d="M195.9,223.5 L207.6,228.2 L206.7,217.3 Q218.0,229 234.0,238.5 Q258.0,256 284.2,263.5 L284.2,276.6 Q283.8,277.6 282.2,277.4 Q250.0,271.5 226.0,254 Q207.0,240 195.9,223.5Z" fill="#0f93dc"/>
<path d="M407.3,223.5 L395.6,228.2 L396.5,217.3 Q385.2,229 369.2,238.5 Q345.2,256 319.0,263.5 L319.0,276.6 Q319.4,277.6 321.0,277.4 Q353.2,271.5 377.2,254 Q396.2,240 407.3,223.5Z" fill="#0f93dc"/>
<path d="M301.6,251 C268,250.5 248,238.5 234.7,227 Q228,229.5 229.7,235.7 C237,251 258,266 301.6,265.6 C345.2,266 366.2,251 373.5,235.7 Q375.2,229.5 368.5,227 C355.2,238.5 335.2,250.5 301.6,251Z" fill="#0f93dc"/>
<path d="M229.7,235.7 Q233,243 243,250 L238,242.5 Q234,238 233.5,233Z" fill="#0a66a6"/>
<path d="M373.5,235.7 Q370.2,243 360.2,250 L365.2,242.5 Q369.2,238 369.7,233Z" fill="#0a66a6"/>
<path d="M243.3,250.2 Q247,254.6 254,257.6 Q249,252.2 243.3,250.2Z" fill="#fff"/>
<path d="M359.9,250.2 Q356.2,254.6 349.2,257.6 Q354.2,252.2 359.9,250.2Z" fill="#fff"/>
<path d="M279.2,236.5 L295.2,240 L295.2,246.6 L279.2,249.8Z" fill="#0f93dc" stroke="#fff200" stroke-width="1.2"/>
<path d="M324.0,236.5 L308.0,240 L308.0,246.6 L324.0,249.8Z" fill="#0f93dc" stroke="#fff200" stroke-width="1.2"/>
<rect x="295.2" y="250" width="13.4" height="1.8" fill="#111"/>
<rect x="294.9" y="237" width="13.9" height="13.3" fill="#d9261c"/>
<path d="M301.7,239.1 L302.9,242.3 L306.4,242.4 L303.7,244.5 L304.6,247.8 L301.7,245.9 L298.8,247.8 L299.7,244.5 L297.0,242.4 L300.5,242.3Z" fill="#fff200"/>
<path id="tp1" d="M234.2,240.3 Q260,262.5 301.6,263.3 Q343.2,262.5 369.0,240.3" fill="none"/>
<path id="tp2" d="M215.6,244.3 Q240,268.6 275,272.6" fill="none"/>
<path id="tp3" d="M337.8,270.6 Q356,265.2 370.5,254.6" fill="none"/>
<text style="font-family:'Liberation Sans',sans-serif;font-weight:bold;font-style:italic;fill:#f3ee1f;stroke:#f3ee1f;stroke-width:.65px;stroke-linejoin:round;font-size:10.3px" textLength="144.2" lengthAdjust="spacingAndGlyphs"><textPath href="#tp1" textLength="144.2" lengthAdjust="spacingAndGlyphs">REPUBLICA FEDERATIVA DO BRASIL</textPath></text>
<text style="font-family:'Liberation Sans',sans-serif;font-weight:bold;font-style:italic;fill:#f3ee1f;stroke:#f3ee1f;stroke-width:.65px;stroke-linejoin:round;font-size:9.6px" textLength="65.9" lengthAdjust="spacingAndGlyphs"><textPath href="#tp2" textLength="65.9" lengthAdjust="spacingAndGlyphs">15 de Novembro</textPath></text>
<text style="font-family:'Liberation Sans',sans-serif;font-weight:bold;font-style:italic;fill:#f3ee1f;stroke:#f3ee1f;stroke-width:.65px;stroke-linejoin:round;font-size:9.6px" textLength="35.4" lengthAdjust="spacingAndGlyphs"><textPath href="#tp3" textLength="35.4" lengthAdjust="spacingAndGlyphs">de 1889</textPath></text>
</svg>
</body></html>
